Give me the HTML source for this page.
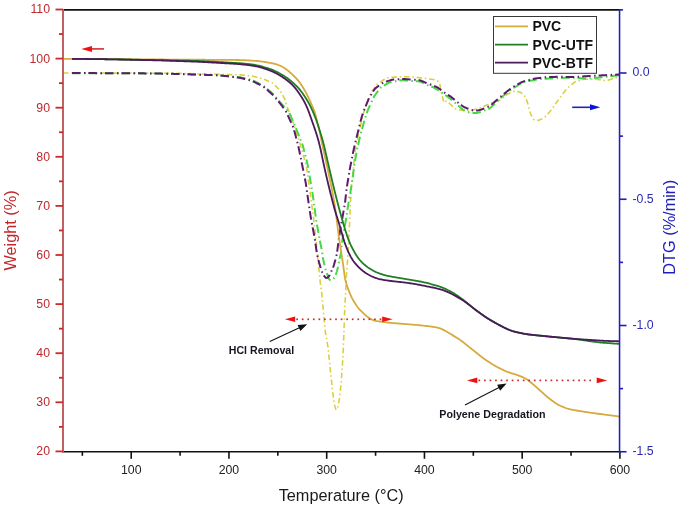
<!DOCTYPE html>
<html><head><meta charset="utf-8"><style>
html,body{margin:0;padding:0;background:#fff;}
svg{display:block;filter:blur(0.3px);font-family:"Liberation Sans",sans-serif;}
</style></head><body>
<svg width="685" height="513" viewBox="0 0 685 513">
<line x1="63.0" y1="9.9" x2="619.5" y2="9.9" stroke="#111" stroke-width="1.8"/>
<line x1="63.0" y1="451.8" x2="619.5" y2="451.8" stroke="#111" stroke-width="1.6"/>
<line x1="82.35" y1="451.8" x2="82.35" y2="455.8" stroke="#111" stroke-width="1.6"/>
<line x1="131.22" y1="451.8" x2="131.22" y2="458.8" stroke="#111" stroke-width="1.6"/>
<text x="131.22" y="474.3" font-size="12.3" fill="#222" text-anchor="middle">100</text>
<line x1="180.09" y1="451.8" x2="180.09" y2="455.8" stroke="#111" stroke-width="1.6"/>
<line x1="228.96" y1="451.8" x2="228.96" y2="458.8" stroke="#111" stroke-width="1.6"/>
<text x="228.96" y="474.3" font-size="12.3" fill="#222" text-anchor="middle">200</text>
<line x1="277.83" y1="451.8" x2="277.83" y2="455.8" stroke="#111" stroke-width="1.6"/>
<line x1="326.70" y1="451.8" x2="326.70" y2="458.8" stroke="#111" stroke-width="1.6"/>
<text x="326.70" y="474.3" font-size="12.3" fill="#222" text-anchor="middle">300</text>
<line x1="375.57" y1="451.8" x2="375.57" y2="455.8" stroke="#111" stroke-width="1.6"/>
<line x1="424.44" y1="451.8" x2="424.44" y2="458.8" stroke="#111" stroke-width="1.6"/>
<text x="424.44" y="474.3" font-size="12.3" fill="#222" text-anchor="middle">400</text>
<line x1="473.31" y1="451.8" x2="473.31" y2="455.8" stroke="#111" stroke-width="1.6"/>
<line x1="522.18" y1="451.8" x2="522.18" y2="458.8" stroke="#111" stroke-width="1.6"/>
<text x="522.18" y="474.3" font-size="12.3" fill="#222" text-anchor="middle">500</text>
<line x1="571.05" y1="451.8" x2="571.05" y2="455.8" stroke="#111" stroke-width="1.6"/>
<line x1="619.92" y1="451.8" x2="619.92" y2="458.8" stroke="#111" stroke-width="1.6"/>
<text x="619.92" y="474.3" font-size="12.3" fill="#222" text-anchor="middle">600</text>
<path d="M63.00,73.00 L64.00,73.00 L65.00,73.00 L66.00,73.00 L67.00,73.00 L68.00,73.00 L69.00,73.00 L70.00,73.00 L71.00,73.00 L72.00,73.00 L73.00,73.00 L74.00,73.01 L75.00,73.01 L76.00,73.01 L77.00,73.01 L78.00,73.02 L79.00,73.02 L80.00,73.02 L81.00,73.02 L82.00,73.03 L83.00,73.03 L84.00,73.03 L85.00,73.03 L86.00,73.04 L87.00,73.04 L88.00,73.04 L89.00,73.04 L90.00,73.05 L91.00,73.05 L92.00,73.05 L93.00,73.06 L94.00,73.06 L95.00,73.06 L96.00,73.06 L97.00,73.07 L98.00,73.07 L99.00,73.07 L100.00,73.07 L101.00,73.08 L102.00,73.08 L103.00,73.08 L104.01,73.08 L105.01,73.09 L106.01,73.09 L107.01,73.09 L108.01,73.09 L109.01,73.10 L110.01,73.10 L111.01,73.10 L112.01,73.11 L113.01,73.11 L114.01,73.11 L115.01,73.11 L116.01,73.12 L117.01,73.12 L118.01,73.12 L119.01,73.12 L120.01,73.13 L121.01,73.13 L122.01,73.13 L123.01,73.13 L124.01,73.14 L125.01,73.14 L126.01,73.14 L127.01,73.14 L128.01,73.15 L129.01,73.15 L130.01,73.15 L131.01,73.15 L132.01,73.16 L133.01,73.16 L134.01,73.16 L135.01,73.16 L136.01,73.17 L137.01,73.17 L138.01,73.17 L139.01,73.17 L140.01,73.18 L141.01,73.18 L142.01,73.18 L143.01,73.18 L144.01,73.19 L145.01,73.19 L146.01,73.19 L147.01,73.19 L148.01,73.20 L149.01,73.20 L150.01,73.20 L151.01,73.21 L152.01,73.21 L153.01,73.22 L154.01,73.23 L155.01,73.23 L156.01,73.24 L157.01,73.25 L158.01,73.25 L159.01,73.26 L160.01,73.27 L161.01,73.27 L162.01,73.28 L163.01,73.29 L164.01,73.29 L165.01,73.30 L166.01,73.31 L167.01,73.31 L168.01,73.32 L169.01,73.33 L170.01,73.33 L171.01,73.34 L172.01,73.35 L173.01,73.35 L174.01,73.36 L175.01,73.37 L176.01,73.37 L177.01,73.38 L178.01,73.39 L179.01,73.39 L180.01,73.41 L181.01,73.43 L182.01,73.45 L183.01,73.48 L184.01,73.50 L185.01,73.53 L186.01,73.55 L187.01,73.58 L188.01,73.60 L189.01,73.63 L190.01,73.65 L191.01,73.68 L192.01,73.70 L193.01,73.73 L194.01,73.75 L195.01,73.78 L196.01,73.80 L197.01,73.83 L198.01,73.85 L199.01,73.88 L200.01,73.90 L201.01,73.93 L202.01,73.95 L203.01,73.98 L204.01,74.00 L205.01,74.03 L206.01,74.05 L207.01,74.08 L208.01,74.10 L209.01,74.13 L210.01,74.15 L211.01,74.18 L212.01,74.20 L213.01,74.23 L214.01,74.25 L215.01,74.28 L216.01,74.30 L217.01,74.33 L218.01,74.35 L219.01,74.37 L220.01,74.40 L221.01,74.42 L222.01,74.44 L223.01,74.46 L224.01,74.48 L225.01,74.50 L226.01,74.52 L227.01,74.54 L228.01,74.56 L229.01,74.58 L230.01,74.60 L231.01,74.62 L232.01,74.64 L233.01,74.66 L234.01,74.68 L235.01,74.70 L236.01,74.72 L237.01,74.74 L238.01,74.76 L239.00,74.78 L240.00,74.83 L241.00,74.91 L241.99,75.00 L242.99,75.11 L243.98,75.21 L244.98,75.31 L245.97,75.41 L246.97,75.51 L247.96,75.62 L248.96,75.72 L249.95,75.82 L250.95,75.93 L251.93,76.09 L252.91,76.31 L253.88,76.56 L254.84,76.81 L255.81,77.05 L256.78,77.30 L257.75,77.55 L258.72,77.80 L259.69,78.05 L260.66,78.30 L261.63,78.55 L262.59,78.80 L263.54,79.10 L264.47,79.47 L265.39,79.86 L266.31,80.25 L267.23,80.65 L268.15,81.04 L269.07,81.44 L269.99,81.83 L270.90,82.23 L271.81,82.64 L272.67,83.12 L273.43,83.75 L274.15,84.45 L274.85,85.15 L275.56,85.86 L276.27,86.57 L276.98,87.28 L277.68,87.98 L278.39,88.69 L279.08,89.41 L279.72,90.17 L280.27,91.00 L280.77,91.86 L281.27,92.73 L281.76,93.60 L282.26,94.47 L282.76,95.33 L283.25,96.20 L283.75,97.07 L284.21,97.95 L284.59,98.87 L284.91,99.82 L285.21,100.77 L285.52,101.73 L285.82,102.68 L286.12,103.63 L286.42,104.59 L286.72,105.54 L287.02,106.49 L287.33,107.44 L287.68,108.38 L288.06,109.30 L288.45,110.22 L288.85,111.14 L289.24,112.06 L289.64,112.98 L290.03,113.90 L290.41,114.83 L290.76,115.76 L291.09,116.71 L291.42,117.65 L291.74,118.60 L292.07,119.54 L292.40,120.49 L292.73,121.43 L293.05,122.38 L293.38,123.32 L293.71,124.27 L294.03,125.21 L294.36,126.16 L294.69,127.10 L295.01,128.05 L295.32,129.00 L295.62,129.96 L295.92,130.91 L296.22,131.86 L296.52,132.82 L296.82,133.77 L297.12,134.72 L297.42,135.68 L297.73,136.63 L298.03,137.58 L298.33,138.54 L298.63,139.49 L298.93,140.45 L299.23,141.40 L299.53,142.35 L299.83,143.31 L300.13,144.26 L300.43,145.22 L300.71,146.18 L300.98,147.14 L301.25,148.10 L301.53,149.06 L301.80,150.03 L302.07,150.99 L302.35,151.95 L302.62,152.91 L302.90,153.87 L303.17,154.84 L303.44,155.80 L303.70,156.76 L303.95,157.73 L304.20,158.70 L304.45,159.67 L304.70,160.64 L304.95,161.61 L305.20,162.57 L305.45,163.54 L305.70,164.51 L305.95,165.48 L306.20,166.45 L306.44,167.42 L306.64,168.40 L306.80,169.38 L306.94,170.37 L307.09,171.36 L307.23,172.35 L307.37,173.34 L307.52,174.33 L307.66,175.32 L307.81,176.31 L307.95,177.30 L308.09,178.29 L308.24,179.28 L308.38,180.27 L308.52,181.26 L308.67,182.25 L308.81,183.24 L308.95,184.23 L309.10,185.22 L309.24,186.21 L309.38,187.20 L309.53,188.19 L309.67,189.18 L309.82,190.17 L309.96,191.16 L310.10,192.15 L310.25,193.14 L310.39,194.13 L310.52,195.12 L310.65,196.11 L310.78,197.10 L310.90,198.09 L311.03,199.09 L311.16,200.08 L311.29,201.07 L311.42,202.06 L311.55,203.05 L311.67,204.05 L311.80,205.04 L311.93,206.03 L312.06,207.02 L312.19,208.01 L312.32,209.00 L312.45,210.00 L312.57,210.99 L312.70,211.98 L312.83,212.97 L312.96,213.96 L313.09,214.96 L313.22,215.95 L313.34,216.94 L313.47,217.93 L313.60,218.92 L313.73,219.91 L313.86,220.91 L313.98,221.90 L314.09,222.89 L314.20,223.89 L314.31,224.88 L314.42,225.88 L314.52,226.87 L314.63,227.86 L314.74,228.86 L314.84,229.85 L314.95,230.85 L315.06,231.84 L315.16,232.84 L315.27,233.83 L315.38,234.83 L315.49,235.82 L315.59,236.81 L315.70,237.81 L315.81,238.80 L315.91,239.80 L316.02,240.79 L316.13,241.79 L316.23,242.78 L316.34,243.78 L316.44,244.77 L316.54,245.76 L316.64,246.76 L316.75,247.75 L316.85,248.75 L316.95,249.74 L317.05,250.74 L317.15,251.73 L317.26,252.73 L317.36,253.72 L317.46,254.72 L317.56,255.71 L317.67,256.71 L317.77,257.70 L317.87,258.70 L317.97,259.69 L318.07,260.69 L318.18,261.68 L318.28,262.68 L318.38,263.67 L318.48,264.67 L318.58,265.66 L318.68,266.66 L318.78,267.65 L318.88,268.65 L318.98,269.64 L319.08,270.64 L319.18,271.63 L319.27,272.63 L319.37,273.63 L319.47,274.62 L319.57,275.62 L319.67,276.61 L319.76,277.61 L319.86,278.60 L319.96,279.60 L320.08,280.59 L320.20,281.58 L320.33,282.57 L320.46,283.57 L320.58,284.56 L320.71,285.55 L320.84,286.54 L320.96,287.53 L321.09,288.53 L321.22,289.52 L321.35,290.51 L321.47,291.50 L321.59,292.50 L321.69,293.49 L321.79,294.49 L321.89,295.48 L321.98,296.48 L322.08,297.47 L322.18,298.47 L322.27,299.46 L322.37,300.46 L322.46,301.45 L322.56,302.45 L322.66,303.45 L322.75,304.44 L322.85,305.44 L322.95,306.43 L323.04,307.43 L323.14,308.42 L323.23,309.42 L323.33,310.41 L323.42,311.41 L323.51,312.41 L323.60,313.40 L323.69,314.40 L323.78,315.39 L323.87,316.39 L323.96,317.39 L324.05,318.38 L324.14,319.38 L324.23,320.37 L324.32,321.37 L324.42,322.37 L324.51,323.36 L324.60,324.36 L324.69,325.35 L324.78,326.35 L324.87,327.35 L324.96,328.34 L325.05,329.34 L325.15,330.33 L325.27,331.32 L325.43,332.31 L325.60,333.30 L325.78,334.28 L325.95,335.27 L326.12,336.25 L326.30,337.24 L326.47,338.22 L326.64,339.21 L326.82,340.19 L326.99,341.18 L327.16,342.16 L327.33,343.15 L327.51,344.13 L327.68,345.12 L327.85,346.10 L328.02,347.09 L328.15,348.08 L328.25,349.07 L328.35,350.07 L328.45,351.06 L328.55,352.06 L328.65,353.05 L328.75,354.05 L328.84,355.05 L328.94,356.04 L329.04,357.04 L329.14,358.03 L329.24,359.03 L329.33,360.02 L329.43,361.02 L329.53,362.01 L329.63,363.01 L329.73,364.00 L329.82,365.00 L329.92,365.99 L330.02,366.99 L330.12,367.98 L330.22,368.98 L330.31,369.97 L330.41,370.97 L330.51,371.97 L330.61,372.96 L330.71,373.96 L330.82,374.95 L330.93,375.94 L331.05,376.94 L331.16,377.93 L331.27,378.92 L331.39,379.92 L331.50,380.91 L331.61,381.91 L331.73,382.90 L331.84,383.89 L331.95,384.89 L332.07,385.88 L332.18,386.87 L332.29,387.87 L332.41,388.86 L332.52,389.85 L332.63,390.85 L332.75,391.84 L332.86,392.84 L332.97,393.83 L333.09,394.82 L333.20,395.82 L333.33,396.81 L333.48,397.80 L333.63,398.79 L333.79,399.77 L333.95,400.76 L334.10,401.75 L334.26,402.74 L334.42,403.72 L334.58,404.71 L334.79,405.69 L335.06,406.65 L335.34,407.61 L335.64,408.56 L335.94,409.43 L336.28,409.82 L336.70,409.39 L337.15,408.55 L337.56,407.64 L337.85,406.70 L338.08,405.73 L338.29,404.75 L338.50,403.77 L338.71,402.79 L338.92,401.81 L339.09,400.83 L339.23,399.84 L339.35,398.85 L339.46,397.85 L339.57,396.86 L339.69,395.87 L339.80,394.87 L339.91,393.88 L340.03,392.89 L340.14,391.89 L340.25,390.90 L340.37,389.91 L340.48,388.91 L340.59,387.92 L340.71,386.92 L340.82,385.93 L340.93,384.94 L341.05,383.94 L341.15,382.95 L341.24,381.95 L341.31,380.96 L341.38,379.96 L341.45,378.96 L341.52,377.96 L341.59,376.96 L341.65,375.97 L341.72,374.97 L341.79,373.97 L341.86,372.97 L341.93,371.98 L342.00,370.98 L342.06,369.98 L342.13,368.98 L342.20,367.98 L342.27,366.99 L342.34,365.99 L342.41,364.99 L342.47,363.99 L342.54,363.00 L342.61,362.00 L342.68,361.00 L342.75,360.00 L342.81,359.00 L342.88,358.01 L342.95,357.01 L343.01,356.01 L343.05,355.01 L343.09,354.01 L343.13,353.01 L343.17,352.01 L343.20,351.01 L343.24,350.01 L343.28,349.01 L343.32,348.01 L343.36,347.02 L343.40,346.02 L343.44,345.02 L343.47,344.02 L343.51,343.02 L343.55,342.02 L343.59,341.02 L343.63,340.02 L343.67,339.02 L343.71,338.02 L343.74,337.02 L343.78,336.02 L343.82,335.02 L343.86,334.02 L343.90,333.02 L343.93,332.02 L343.97,331.03 L344.00,330.03 L344.04,329.03 L344.07,328.03 L344.11,327.03 L344.14,326.03 L344.18,325.03 L344.21,324.03 L344.25,323.03 L344.28,322.03 L344.32,321.03 L344.35,320.03 L344.39,319.03 L344.42,318.03 L344.46,317.03 L344.49,316.03 L344.53,315.03 L344.56,314.03 L344.60,313.03 L344.63,312.03 L344.67,311.03 L344.71,310.04 L344.75,309.04 L344.81,308.04 L344.86,307.04 L344.91,306.04 L344.96,305.04 L345.01,304.04 L345.06,303.04 L345.11,302.04 L345.16,301.05 L345.21,300.05 L345.27,299.05 L345.32,298.05 L345.37,297.05 L345.42,296.05 L345.47,295.05 L345.52,294.05 L345.57,293.06 L345.62,292.06 L345.67,291.06 L345.73,290.06 L345.78,289.06 L345.83,288.06 L345.88,287.06 L345.93,286.06 L345.98,285.06 L346.03,284.07 L346.09,283.07 L346.14,282.07 L346.19,281.07 L346.24,280.07 L346.29,279.07 L346.34,278.07 L346.39,277.07 L346.45,276.08 L346.50,275.08 L346.57,274.08 L346.64,273.08 L346.72,272.08 L346.80,271.09 L346.87,270.09 L346.95,269.09 L347.02,268.10 L347.10,267.10 L347.17,266.10 L347.25,265.10 L347.31,264.11 L347.37,263.11 L347.43,262.11 L347.49,261.11 L347.55,260.11 L347.60,259.11 L347.66,258.12 L347.72,257.12 L347.77,256.12 L347.83,255.12 L347.89,254.12 L347.94,253.12 L348.00,252.12 L348.06,251.13 L348.12,250.13 L348.17,249.13 L348.23,248.13 L348.29,247.13 L348.34,246.13 L348.40,245.13 L348.46,244.14 L348.51,243.14 L348.57,242.14 L348.62,241.14 L348.67,240.14 L348.72,239.14 L348.77,238.14 L348.83,237.15 L348.88,236.15 L348.93,235.15 L348.98,234.15 L349.03,233.15 L349.09,232.15 L349.14,231.15 L349.19,230.15 L349.24,229.15 L349.29,228.16 L349.35,227.16 L349.40,226.16 L349.45,225.16 L349.50,224.16 L349.55,223.16 L349.60,222.16 L349.65,221.16 L349.70,220.17 L349.74,219.17 L349.79,218.17 L349.83,217.17 L349.88,216.17 L349.93,215.17 L349.97,214.17 L350.02,213.17 L350.06,212.17 L350.11,211.17 L350.15,210.17 L350.20,209.18 L350.25,208.18 L350.29,207.18 L350.34,206.18 L350.38,205.18 L350.43,204.18 L350.47,203.18 L350.53,202.18 L350.58,201.18 L350.64,200.18 L350.69,199.19 L350.75,198.19 L350.81,197.19 L350.86,196.19 L350.92,195.19 L350.98,194.19 L351.03,193.20 L351.09,192.20 L351.15,191.20 L351.20,190.20 L351.26,189.20 L351.32,188.20 L351.37,187.20 L351.43,186.21 L351.50,185.21 L351.61,184.21 L351.73,183.22 L351.86,182.23 L351.99,181.24 L352.11,180.25 L352.24,179.25 L352.37,178.26 L352.50,177.27 L352.63,176.28 L352.76,175.29 L352.88,174.30 L352.99,173.30 L353.09,172.31 L353.17,171.31 L353.25,170.31 L353.33,169.32 L353.41,168.32 L353.49,167.32 L353.57,166.32 L353.65,165.33 L353.73,164.33 L353.81,163.33 L353.89,162.34 L353.97,161.34 L354.06,160.34 L354.14,159.35 L354.22,158.35 L354.30,157.35 L354.38,156.36 L354.46,155.36 L354.55,154.36 L354.67,153.37 L354.84,152.39 L355.04,151.41 L355.23,150.43 L355.43,149.45 L355.63,148.47 L355.82,147.48 L356.02,146.50 L356.22,145.52 L356.41,144.54 L356.61,143.56 L356.80,142.58 L357.00,141.60 L357.20,140.62 L357.39,139.64 L357.59,138.66 L357.78,137.68 L357.98,136.70 L358.19,135.72 L358.41,134.74 L358.64,133.77 L358.86,132.80 L359.09,131.82 L359.31,130.85 L359.53,129.87 L359.76,128.90 L359.98,127.92 L360.21,126.95 L360.43,125.97 L360.66,125.00 L360.88,124.02 L361.11,123.05 L361.33,122.07 L361.56,121.10 L361.78,120.13 L362.00,119.15 L362.23,118.18 L362.47,117.20 L362.72,116.24 L363.00,115.28 L363.27,114.32 L363.55,113.35 L363.83,112.39 L364.10,111.43 L364.38,110.47 L364.66,109.51 L364.94,108.55 L365.21,107.59 L365.50,106.63 L365.82,105.68 L366.19,104.76 L366.57,103.83 L366.96,102.91 L367.35,101.99 L367.74,101.07 L368.12,100.15 L368.51,99.22 L368.90,98.30 L369.29,97.38 L369.68,96.46 L370.07,95.54 L370.46,94.62 L370.84,93.70 L371.24,92.78 L371.68,91.89 L372.21,91.04 L372.79,90.22 L373.36,89.41 L373.94,88.59 L374.52,87.77 L375.10,86.96 L375.67,86.14 L376.25,85.33 L376.84,84.52 L377.49,83.78 L378.27,83.18 L379.11,82.64 L379.96,82.12 L380.81,81.59 L381.66,81.07 L382.52,80.54 L383.37,80.02 L384.22,79.49 L385.07,78.97 L385.92,78.46 L386.81,78.04 L387.77,77.82 L388.76,77.70 L389.75,77.60 L390.75,77.50 L391.74,77.39 L392.74,77.29 L393.73,77.19 L394.73,77.09 L395.72,76.99 L396.71,76.88 L397.71,76.79 L398.71,76.73 L399.71,76.71 L400.71,76.72 L401.71,76.73 L402.71,76.74 L403.71,76.75 L404.71,76.75 L405.71,76.76 L406.71,76.77 L407.71,76.78 L408.71,76.79 L409.71,76.82 L410.70,76.88 L411.70,76.97 L412.69,77.07 L413.69,77.17 L414.68,77.27 L415.68,77.37 L416.67,77.47 L417.67,77.57 L418.66,77.67 L419.66,77.77 L420.65,77.87 L421.65,77.97 L422.65,78.06 L423.64,78.16 L424.63,78.27 L425.63,78.40 L426.61,78.56 L427.60,78.71 L428.59,78.87 L429.58,79.02 L430.57,79.18 L431.55,79.33 L432.54,79.49 L433.53,79.65 L434.52,79.80 L435.50,79.98 L436.43,80.27 L437.29,80.75 L438.10,81.31 L438.87,81.93 L439.42,82.67 L439.71,83.58 L439.89,84.56 L440.06,85.55 L440.23,86.53 L440.42,87.51 L440.62,88.49 L440.82,89.47 L441.03,90.45 L441.25,91.43 L441.46,92.40 L441.67,93.38 L441.88,94.36 L442.10,95.34 L442.33,96.31 L442.58,97.28 L442.82,98.25 L443.07,99.22 L443.31,100.19 L443.57,101.15 L443.90,102.05 L444.46,102.70 L445.08,102.81 L445.51,102.22 L445.86,101.46 L446.37,101.20 L447.08,101.58 L447.85,102.18 L448.63,102.80 L449.42,103.42 L450.18,104.06 L450.92,104.73 L451.63,105.43 L452.34,106.14 L453.05,106.85 L453.76,107.55 L454.50,108.20 L455.34,108.67 L456.28,108.96 L457.25,109.20 L458.22,109.44 L459.19,109.68 L460.17,109.90 L461.15,110.11 L462.13,110.31 L463.11,110.51 L464.09,110.68 L465.08,110.74 L466.08,110.72 L467.07,110.67 L468.07,110.60 L469.06,110.48 L470.05,110.32 L471.03,110.14 L472.01,109.96 L473.00,109.78 L473.98,109.60 L474.97,109.42 L475.95,109.24 L476.93,109.05 L477.89,108.80 L478.83,108.45 L479.75,108.06 L480.67,107.67 L481.58,107.27 L482.50,106.87 L483.42,106.48 L484.34,106.08 L485.26,105.69 L486.18,105.29 L487.09,104.90 L488.01,104.50 L488.93,104.10 L489.85,103.72 L490.79,103.36 L491.73,103.02 L492.67,102.69 L493.61,102.36 L494.56,102.02 L495.50,101.69 L496.44,101.36 L497.39,101.02 L498.33,100.69 L499.26,100.33 L500.14,99.89 L500.94,99.31 L501.72,98.68 L502.49,98.04 L503.26,97.40 L504.03,96.76 L504.80,96.13 L505.57,95.49 L506.35,94.86 L507.17,94.31 L508.05,93.86 L508.97,93.46 L509.89,93.07 L510.81,92.67 L511.73,92.28 L512.65,91.89 L513.57,91.50 L514.49,91.15 L515.42,91.01 L516.38,91.16 L517.33,91.43 L518.29,91.71 L519.25,91.99 L520.20,92.30 L521.07,92.73 L521.83,93.35 L522.54,94.04 L523.25,94.75 L523.96,95.46 L524.66,96.17 L525.32,96.90 L525.82,97.74 L526.18,98.66 L526.49,99.61 L526.80,100.56 L527.12,101.51 L527.43,102.46 L527.74,103.41 L528.03,104.37 L528.29,105.33 L528.54,106.30 L528.79,107.27 L529.04,108.24 L529.29,109.20 L529.54,110.17 L529.79,111.14 L530.04,112.11 L530.32,113.07 L530.69,113.99 L531.14,114.88 L531.62,115.76 L532.09,116.64 L532.56,117.52 L533.04,118.40 L533.55,119.23 L534.21,119.83 L535.09,120.11 L536.07,120.24 L537.06,120.34 L538.05,120.37 L538.99,120.19 L539.90,119.81 L540.79,119.37 L541.69,118.93 L542.59,118.49 L543.48,118.04 L544.32,117.52 L545.05,116.86 L545.73,116.13 L546.40,115.39 L547.08,114.65 L547.75,113.91 L548.42,113.17 L549.09,112.42 L549.75,111.68 L550.39,110.91 L550.99,110.11 L551.57,109.29 L552.16,108.48 L552.74,107.67 L553.32,106.86 L553.91,106.05 L554.49,105.24 L555.08,104.42 L555.66,103.61 L556.24,102.80 L556.83,101.99 L557.41,101.17 L557.99,100.36 L558.57,99.55 L559.15,98.73 L559.74,97.92 L560.32,97.11 L560.90,96.29 L561.49,95.48 L562.09,94.69 L562.71,93.91 L563.35,93.13 L563.98,92.36 L564.61,91.58 L565.24,90.81 L565.88,90.03 L566.51,89.26 L567.15,88.49 L567.83,87.76 L568.57,87.09 L569.33,86.45 L570.10,85.81 L570.87,85.17 L571.64,84.53 L572.41,83.90 L573.18,83.26 L573.96,82.63 L574.78,82.09 L575.68,81.69 L576.63,81.36 L577.57,81.04 L578.52,80.73 L579.47,80.41 L580.42,80.09 L581.37,79.78 L582.32,79.50 L583.30,79.34 L584.29,79.30 L585.29,79.30 L586.29,79.30 L587.29,79.30 L588.29,79.30 L589.29,79.30 L590.29,79.30 L591.29,79.30 L592.29,79.30 L593.29,79.30 L594.29,79.30 L595.29,79.30 L596.29,79.32 L597.29,79.40 L598.28,79.54 L599.26,79.69 L600.25,79.85 L601.24,80.01 L602.23,80.17 L603.21,80.32 L604.20,80.48 L605.19,80.62 L606.17,80.66 L607.13,80.48 L608.08,80.19 L609.03,79.88 L609.98,79.57 L610.93,79.26 L611.88,78.95 L612.84,78.64 L613.79,78.34 L614.74,78.03 L615.69,77.72 L616.64,77.41 L617.59,77.10 L618.55,76.80 L619.50,76.50" fill="none" stroke="#dccf3c" stroke-width="1.60" stroke-linejoin="round" stroke-dasharray="5.5,2.8,1.5,2.8" />
<path d="M72.00,73.20 L73.00,73.20 L74.00,73.21 L75.00,73.21 L76.00,73.21 L77.00,73.21 L78.00,73.22 L79.00,73.22 L80.00,73.22 L81.00,73.22 L82.00,73.23 L83.00,73.23 L84.00,73.23 L85.00,73.23 L86.00,73.24 L87.00,73.24 L88.00,73.24 L89.00,73.24 L90.00,73.25 L91.00,73.25 L92.00,73.25 L93.00,73.26 L94.00,73.26 L95.00,73.26 L96.00,73.26 L97.00,73.27 L98.00,73.27 L99.00,73.27 L100.00,73.27 L101.00,73.28 L102.00,73.28 L103.00,73.28 L104.00,73.28 L105.01,73.29 L106.01,73.29 L107.01,73.29 L108.01,73.29 L109.01,73.30 L110.01,73.30 L111.01,73.30 L112.01,73.31 L113.01,73.31 L114.01,73.31 L115.01,73.31 L116.01,73.32 L117.01,73.32 L118.01,73.32 L119.01,73.32 L120.01,73.33 L121.01,73.33 L122.01,73.33 L123.01,73.33 L124.01,73.34 L125.01,73.34 L126.01,73.34 L127.01,73.34 L128.01,73.35 L129.01,73.35 L130.01,73.35 L131.01,73.35 L132.01,73.36 L133.01,73.36 L134.01,73.36 L135.01,73.36 L136.01,73.37 L137.01,73.37 L138.01,73.37 L139.01,73.37 L140.01,73.38 L141.01,73.38 L142.01,73.38 L143.01,73.38 L144.01,73.39 L145.01,73.39 L146.01,73.39 L147.01,73.39 L148.01,73.40 L149.01,73.40 L150.01,73.41 L151.01,73.42 L152.01,73.44 L153.01,73.46 L154.01,73.48 L155.01,73.50 L156.01,73.52 L157.01,73.54 L158.01,73.56 L159.01,73.58 L160.01,73.60 L161.01,73.62 L162.01,73.64 L163.01,73.66 L164.01,73.68 L165.01,73.70 L166.01,73.72 L167.01,73.74 L168.01,73.76 L169.01,73.78 L170.01,73.80 L171.01,73.82 L172.01,73.84 L173.01,73.86 L174.01,73.88 L175.01,73.90 L176.01,73.92 L177.01,73.94 L178.01,73.96 L179.01,73.98 L180.01,74.01 L181.01,74.04 L182.01,74.07 L183.01,74.11 L184.01,74.14 L185.01,74.18 L186.01,74.21 L187.01,74.25 L188.01,74.28 L189.01,74.32 L190.01,74.35 L191.01,74.39 L192.01,74.42 L193.00,74.46 L194.00,74.49 L195.00,74.53 L196.00,74.56 L197.00,74.60 L198.00,74.63 L199.00,74.67 L200.00,74.70 L201.00,74.74 L202.00,74.77 L203.00,74.80 L204.00,74.84 L205.00,74.87 L206.00,74.91 L207.00,74.94 L208.00,74.98 L209.00,75.01 L210.00,75.05 L211.00,75.08 L212.00,75.12 L213.00,75.15 L213.99,75.19 L214.99,75.22 L215.99,75.26 L216.99,75.29 L217.99,75.33 L218.99,75.37 L219.99,75.43 L220.99,75.50 L221.98,75.58 L222.98,75.67 L223.98,75.76 L224.97,75.85 L225.97,75.94 L226.97,76.03 L227.96,76.12 L228.96,76.21 L229.95,76.30 L230.95,76.39 L231.95,76.48 L232.94,76.56 L233.94,76.65 L234.93,76.74 L235.93,76.83 L236.93,76.92 L237.92,77.02 L238.92,77.12 L239.91,77.25 L240.89,77.43 L241.87,77.63 L242.84,77.86 L243.81,78.08 L244.79,78.31 L245.76,78.53 L246.74,78.76 L247.71,78.98 L248.69,79.21 L249.66,79.43 L250.63,79.68 L251.58,79.97 L252.50,80.34 L253.41,80.75 L254.31,81.19 L255.20,81.64 L256.10,82.08 L256.99,82.52 L257.89,82.97 L258.79,83.41 L259.68,83.86 L260.58,84.30 L261.47,84.75 L262.36,85.21 L263.21,85.72 L264.03,86.29 L264.81,86.91 L265.57,87.55 L266.34,88.19 L267.10,88.84 L267.86,89.49 L268.62,90.14 L269.39,90.78 L270.15,91.43 L270.91,92.08 L271.66,92.74 L272.40,93.41 L273.10,94.12 L273.77,94.86 L274.42,95.62 L275.07,96.38 L275.72,97.14 L276.37,97.90 L277.02,98.66 L277.67,99.42 L278.32,100.18 L278.97,100.94 L279.63,101.69 L280.30,102.43 L280.97,103.17 L281.65,103.91 L282.33,104.64 L283.01,105.37 L283.69,106.11 L284.37,106.84 L285.05,107.57 L285.74,108.30 L286.42,109.04 L287.09,109.77 L287.75,110.52 L288.37,111.30 L288.89,112.13 L289.34,113.01 L289.76,113.92 L290.16,114.84 L290.56,115.75 L290.96,116.67 L291.36,117.59 L291.76,118.50 L292.16,119.42 L292.57,120.33 L292.97,121.25 L293.37,122.17 L293.77,123.08 L294.17,124.00 L294.57,124.92 L294.97,125.83 L295.37,126.75 L295.75,127.67 L296.13,128.60 L296.51,129.53 L296.88,130.46 L297.25,131.38 L297.61,132.31 L297.98,133.24 L298.35,134.17 L298.72,135.10 L299.09,136.03 L299.46,136.96 L299.83,137.89 L300.20,138.82 L300.57,139.75 L300.94,140.68 L301.31,141.61 L301.68,142.54 L302.05,143.47 L302.40,144.40 L302.71,145.35 L302.99,146.31 L303.24,147.28 L303.49,148.24 L303.73,149.21 L303.98,150.18 L304.22,151.15 L304.47,152.12 L304.71,153.09 L304.95,154.06 L305.20,155.03 L305.44,156.00 L305.68,156.97 L305.93,157.94 L306.17,158.91 L306.41,159.88 L306.66,160.85 L306.90,161.82 L307.14,162.80 L307.38,163.77 L307.61,164.74 L307.81,165.72 L307.99,166.70 L308.16,167.69 L308.33,168.67 L308.50,169.66 L308.67,170.65 L308.84,171.63 L309.00,172.62 L309.17,173.60 L309.34,174.59 L309.51,175.57 L309.68,176.56 L309.85,177.55 L310.02,178.53 L310.19,179.52 L310.35,180.50 L310.52,181.49 L310.69,182.48 L310.86,183.46 L311.03,184.45 L311.20,185.43 L311.37,186.42 L311.54,187.40 L311.71,188.39 L311.87,189.38 L312.04,190.36 L312.21,191.35 L312.38,192.33 L312.54,193.32 L312.70,194.31 L312.84,195.30 L312.98,196.29 L313.11,197.28 L313.24,198.27 L313.38,199.26 L313.51,200.25 L313.64,201.24 L313.78,202.24 L313.91,203.23 L314.04,204.22 L314.17,205.21 L314.31,206.20 L314.44,207.19 L314.57,208.18 L314.70,209.18 L314.84,210.17 L314.97,211.16 L315.10,212.15 L315.23,213.14 L315.37,214.13 L315.50,215.12 L315.63,216.11 L315.77,217.11 L315.90,218.10 L316.03,219.09 L316.17,220.08 L316.32,221.07 L316.48,222.05 L316.66,223.04 L316.84,224.02 L317.02,225.01 L317.20,225.99 L317.38,226.97 L317.56,227.96 L317.74,228.94 L317.92,229.92 L318.10,230.91 L318.28,231.89 L318.46,232.88 L318.65,233.86 L318.83,234.84 L319.01,235.83 L319.19,236.81 L319.37,237.79 L319.55,238.78 L319.73,239.76 L319.91,240.74 L320.09,241.73 L320.28,242.71 L320.47,243.69 L320.67,244.67 L320.87,245.65 L321.07,246.63 L321.27,247.61 L321.48,248.59 L321.68,249.57 L321.87,250.55 L322.05,251.53 L322.21,252.52 L322.34,253.51 L322.47,254.50 L322.60,255.50 L322.74,256.49 L322.88,257.48 L323.05,258.46 L323.23,259.44 L323.43,260.43 L323.62,261.41 L323.83,262.39 L324.04,263.36 L324.27,264.33 L324.52,265.30 L324.77,266.27 L325.02,267.24 L325.27,268.21 L325.54,269.17 L325.83,270.13 L326.15,271.07 L326.47,272.02 L326.80,272.97 L327.12,273.91 L327.44,274.86 L327.74,275.81 L328.05,276.76 L328.38,277.70 L328.79,278.58 L329.34,279.37 L329.99,280.04 L330.70,280.47 L331.41,280.49 L332.11,280.08 L332.79,279.43 L333.42,278.67 L333.99,277.86 L334.51,277.01 L335.01,276.14 L335.47,275.26 L335.87,274.35 L336.23,273.42 L336.56,272.47 L336.87,271.53 L337.16,270.57 L337.40,269.60 L337.61,268.63 L337.81,267.65 L337.99,266.66 L338.18,265.68 L338.37,264.70 L338.56,263.72 L338.76,262.74 L338.96,261.76 L339.16,260.78 L339.36,259.80 L339.57,258.82 L339.80,257.85 L340.04,256.88 L340.28,255.91 L340.52,254.93 L340.72,253.96 L340.87,252.97 L340.98,251.98 L341.08,250.98 L341.17,249.99 L341.27,248.99 L341.36,248.00 L341.46,247.00 L341.57,246.01 L341.69,245.01 L341.82,244.02 L341.96,243.03 L342.11,242.04 L342.26,241.05 L342.40,240.06 L342.55,239.08 L342.69,238.09 L342.84,237.10 L343.00,236.11 L343.17,235.12 L343.34,234.14 L343.52,233.15 L343.70,232.17 L343.88,231.19 L344.06,230.20 L344.24,229.22 L344.42,228.24 L344.60,227.25 L344.78,226.27 L344.96,225.28 L345.13,224.30 L345.31,223.31 L345.48,222.33 L345.64,221.34 L345.80,220.35 L345.95,219.37 L346.10,218.38 L346.25,217.39 L346.40,216.40 L346.56,215.41 L346.71,214.42 L346.86,213.43 L347.01,212.45 L347.16,211.46 L347.31,210.47 L347.47,209.48 L347.62,208.49 L347.77,207.50 L347.93,206.52 L348.09,205.53 L348.26,204.54 L348.43,203.56 L348.61,202.57 L348.78,201.59 L348.95,200.60 L349.13,199.62 L349.30,198.63 L349.48,197.65 L349.65,196.66 L349.83,195.68 L350.00,194.69 L350.17,193.71 L350.34,192.72 L350.50,191.74 L350.66,190.75 L350.82,189.76 L350.97,188.77 L351.13,187.79 L351.29,186.80 L351.45,185.81 L351.60,184.82 L351.76,183.83 L351.92,182.85 L352.08,181.86 L352.23,180.87 L352.38,179.88 L352.53,178.89 L352.66,177.90 L352.79,176.91 L352.92,175.92 L353.05,174.93 L353.18,173.93 L353.31,172.94 L353.43,171.95 L353.56,170.96 L353.69,169.97 L353.82,168.98 L353.95,167.98 L354.08,166.99 L354.22,166.00 L354.37,165.01 L354.54,164.03 L354.70,163.04 L354.87,162.05 L355.04,161.07 L355.20,160.08 L355.37,159.10 L355.54,158.11 L355.71,157.12 L355.87,156.14 L356.04,155.15 L356.21,154.17 L356.38,153.18 L356.55,152.19 L356.72,151.21 L356.90,150.23 L357.11,149.25 L357.33,148.27 L357.55,147.30 L357.78,146.32 L358.01,145.35 L358.23,144.38 L358.46,143.40 L358.69,142.43 L358.91,141.45 L359.14,140.48 L359.37,139.51 L359.59,138.53 L359.82,137.56 L360.05,136.58 L360.28,135.61 L360.50,134.64 L360.73,133.66 L360.98,132.69 L361.23,131.73 L361.50,130.76 L361.78,129.80 L362.06,128.84 L362.33,127.88 L362.61,126.92 L362.89,125.96 L363.16,125.00 L363.44,124.04 L363.72,123.08 L363.99,122.11 L364.27,121.15 L364.55,120.19 L364.83,119.23 L365.10,118.27 L365.39,117.31 L365.68,116.36 L365.99,115.41 L366.32,114.46 L366.65,113.52 L366.98,112.57 L367.31,111.63 L367.65,110.69 L368.00,109.75 L368.38,108.83 L368.78,107.91 L369.19,107.00 L369.60,106.09 L370.01,105.18 L370.43,104.27 L370.84,103.35 L371.25,102.44 L371.66,101.53 L372.08,100.62 L372.49,99.71 L372.90,98.80 L373.33,97.90 L373.78,97.01 L374.29,96.16 L374.86,95.33 L375.45,94.53 L376.04,93.72 L376.64,92.92 L377.24,92.12 L377.83,91.32 L378.43,90.52 L379.03,89.71 L379.63,88.92 L380.25,88.14 L380.93,87.43 L381.70,86.82 L382.53,86.28 L383.39,85.78 L384.26,85.28 L385.12,84.78 L385.99,84.28 L386.86,83.79 L387.73,83.30 L388.62,82.86 L389.54,82.51 L390.50,82.25 L391.47,82.04 L392.45,81.84 L393.43,81.65 L394.42,81.45 L395.40,81.26 L396.38,81.07 L397.36,80.88 L398.34,80.69 L399.32,80.50 L400.31,80.36 L401.30,80.30 L402.29,80.31 L403.29,80.36 L404.29,80.42 L405.29,80.48 L406.29,80.54 L407.28,80.60 L408.28,80.67 L409.28,80.73 L410.28,80.79 L411.28,80.85 L412.27,80.91 L413.27,80.98 L414.27,81.04 L415.27,81.10 L416.27,81.16 L417.27,81.23 L418.26,81.30 L419.24,81.42 L420.20,81.64 L421.12,81.98 L422.01,82.41 L422.90,82.86 L423.79,83.33 L424.68,83.79 L425.57,84.24 L426.47,84.67 L427.38,85.07 L428.32,85.42 L429.26,85.75 L430.20,86.08 L431.14,86.42 L432.07,86.80 L432.98,87.21 L433.88,87.64 L434.77,88.09 L435.66,88.56 L436.52,89.05 L437.37,89.58 L438.20,90.14 L439.02,90.70 L439.85,91.27 L440.67,91.83 L441.50,92.40 L442.32,92.96 L443.15,93.53 L443.97,94.11 L444.78,94.68 L445.60,95.26 L446.41,95.84 L447.23,96.42 L448.04,97.00 L448.85,97.59 L449.64,98.20 L450.42,98.83 L451.18,99.48 L451.93,100.13 L452.69,100.79 L453.44,101.45 L454.20,102.10 L454.95,102.76 L455.70,103.42 L456.46,104.08 L457.21,104.73 L457.97,105.39 L458.72,106.04 L459.48,106.70 L460.23,107.36 L460.99,108.01 L461.76,108.65 L462.55,109.24 L463.39,109.77 L464.26,110.25 L465.16,110.69 L466.06,111.13 L466.96,111.56 L467.87,111.96 L468.80,112.29 L469.76,112.51 L470.74,112.64 L471.74,112.73 L472.73,112.81 L473.73,112.89 L474.73,112.95 L475.72,112.98 L476.72,112.95 L477.70,112.84 L478.66,112.62 L479.60,112.30 L480.53,111.95 L481.47,111.60 L482.40,111.24 L483.34,110.88 L484.27,110.53 L485.20,110.17 L486.14,109.81 L487.07,109.46 L488.00,109.09 L488.92,108.71 L489.79,108.26 L490.59,107.69 L491.34,107.04 L492.05,106.35 L492.76,105.64 L493.47,104.93 L494.17,104.23 L494.88,103.52 L495.59,102.81 L496.30,102.10 L497.00,101.40 L497.71,100.69 L498.42,99.98 L499.13,99.28 L499.86,98.60 L500.61,97.94 L501.38,97.30 L502.15,96.67 L502.93,96.04 L503.71,95.42 L504.49,94.79 L505.27,94.16 L506.05,93.54 L506.83,92.91 L507.61,92.28 L508.39,91.66 L509.17,91.03 L509.95,90.41 L510.74,89.79 L511.54,89.19 L512.36,88.63 L513.21,88.10 L514.07,87.59 L514.92,87.07 L515.78,86.56 L516.64,86.04 L517.50,85.53 L518.36,85.02 L519.21,84.50 L520.07,83.99 L520.93,83.48 L521.79,82.97 L522.67,82.50 L523.57,82.12 L524.52,81.84 L525.49,81.63 L526.47,81.44 L527.46,81.27 L528.44,81.09 L529.43,80.91 L530.41,80.73 L531.40,80.56 L532.38,80.38 L533.36,80.20 L534.35,80.02 L535.33,79.84 L536.32,79.67 L537.30,79.49 L538.29,79.32 L539.27,79.16 L540.26,79.03 L541.26,78.95 L542.26,78.89 L543.25,78.84 L544.25,78.79 L545.25,78.74 L546.25,78.69 L547.25,78.64 L548.25,78.59 L549.25,78.54 L550.25,78.49 L551.25,78.44 L552.24,78.39 L553.24,78.34 L554.24,78.29 L555.24,78.24 L556.24,78.19 L557.24,78.14 L558.24,78.09 L559.24,78.04 L560.24,78.00 L561.24,77.97 L562.24,77.93 L563.23,77.90 L564.23,77.87 L565.23,77.84 L566.23,77.81 L567.23,77.78 L568.23,77.75 L569.23,77.72 L570.23,77.69 L571.23,77.67 L572.23,77.65 L573.23,77.65 L574.23,77.70 L575.22,77.78 L576.22,77.87 L577.22,77.96 L578.21,78.05 L579.21,78.15 L580.20,78.24 L581.20,78.33 L582.19,78.43 L583.19,78.52 L584.19,78.59 L585.18,78.62 L586.18,78.59 L587.18,78.53 L588.17,78.46 L589.17,78.38 L590.17,78.30 L591.16,78.22 L592.16,78.15 L593.16,78.07 L594.16,77.99 L595.15,77.91 L596.15,77.83 L597.15,77.75 L598.14,77.67 L599.14,77.58 L600.13,77.47 L601.13,77.35 L602.12,77.24 L603.11,77.12 L604.11,77.00 L605.10,76.88 L606.09,76.76 L607.08,76.64 L608.08,76.52 L609.07,76.40 L610.06,76.28 L611.06,76.16 L612.05,76.04 L613.04,75.92 L614.04,75.80 L615.03,75.68 L616.02,75.56 L617.01,75.44 L618.01,75.32 L619.00,75.20" fill="none" stroke="#45d845" stroke-width="2.00" stroke-linejoin="round" stroke-dasharray="8.5,3.5,1.5,3" />
<path d="M72.00,73.00 L73.00,73.01 L74.00,73.01 L75.00,73.02 L76.00,73.02 L77.00,73.03 L78.00,73.03 L79.00,73.04 L80.00,73.04 L81.00,73.05 L82.00,73.05 L83.00,73.06 L84.00,73.06 L85.00,73.07 L86.00,73.07 L87.00,73.08 L88.00,73.08 L89.00,73.09 L90.00,73.09 L91.00,73.10 L92.00,73.11 L93.00,73.11 L94.00,73.12 L95.00,73.12 L96.00,73.13 L97.00,73.13 L98.00,73.14 L99.00,73.14 L100.00,73.15 L101.00,73.15 L102.00,73.16 L103.00,73.16 L104.00,73.17 L105.01,73.17 L106.01,73.18 L107.01,73.18 L108.01,73.19 L109.01,73.19 L110.01,73.20 L111.01,73.20 L112.01,73.21 L113.01,73.22 L114.01,73.22 L115.01,73.23 L116.01,73.23 L117.01,73.24 L118.01,73.24 L119.01,73.25 L120.01,73.25 L121.01,73.26 L122.01,73.26 L123.01,73.27 L124.01,73.27 L125.01,73.28 L126.01,73.28 L127.01,73.29 L128.01,73.29 L129.01,73.30 L130.01,73.30 L131.01,73.31 L132.01,73.31 L133.01,73.32 L134.01,73.32 L135.01,73.33 L136.01,73.33 L137.01,73.34 L138.01,73.34 L139.01,73.35 L140.01,73.35 L141.01,73.36 L142.01,73.36 L143.01,73.37 L144.01,73.37 L145.01,73.38 L146.01,73.38 L147.01,73.39 L148.01,73.39 L149.01,73.40 L150.01,73.41 L151.01,73.42 L152.01,73.44 L153.01,73.46 L154.01,73.48 L155.01,73.50 L156.01,73.52 L157.01,73.54 L158.01,73.56 L159.01,73.58 L160.01,73.60 L161.01,73.62 L162.01,73.64 L163.01,73.66 L164.01,73.68 L165.01,73.70 L166.01,73.72 L167.01,73.74 L168.01,73.76 L169.01,73.78 L170.01,73.80 L171.01,73.82 L172.01,73.84 L173.01,73.86 L174.01,73.88 L175.01,73.90 L176.01,73.92 L177.01,73.94 L178.01,73.96 L179.01,73.98 L180.01,74.01 L181.01,74.04 L182.01,74.07 L183.01,74.11 L184.01,74.14 L185.01,74.18 L186.01,74.21 L187.01,74.25 L188.01,74.28 L189.01,74.32 L190.01,74.35 L191.01,74.39 L192.01,74.42 L193.01,74.46 L194.00,74.49 L195.00,74.53 L196.00,74.56 L197.00,74.60 L198.00,74.63 L199.00,74.67 L200.00,74.70 L201.00,74.74 L202.00,74.77 L203.00,74.81 L204.00,74.84 L205.00,74.87 L206.00,74.91 L207.00,74.94 L208.00,74.98 L209.00,75.01 L210.00,75.05 L211.00,75.08 L212.00,75.12 L213.00,75.15 L214.00,75.19 L215.00,75.22 L215.99,75.26 L216.99,75.29 L217.99,75.33 L218.99,75.38 L219.99,75.44 L220.99,75.53 L221.98,75.64 L222.97,75.76 L223.97,75.88 L224.96,76.00 L225.95,76.11 L226.94,76.23 L227.94,76.35 L228.93,76.47 L229.92,76.59 L230.92,76.71 L231.91,76.83 L232.90,76.95 L233.90,77.07 L234.89,77.19 L235.88,77.31 L236.87,77.43 L237.87,77.55 L238.86,77.68 L239.84,77.83 L240.82,78.03 L241.80,78.25 L242.77,78.49 L243.74,78.73 L244.71,78.97 L245.68,79.21 L246.65,79.45 L247.62,79.69 L248.59,79.93 L249.56,80.17 L250.53,80.43 L251.48,80.73 L252.40,81.10 L253.31,81.52 L254.20,81.96 L255.09,82.41 L255.99,82.86 L256.88,83.31 L257.77,83.76 L258.67,84.21 L259.56,84.66 L260.45,85.11 L261.34,85.57 L262.23,86.03 L263.08,86.54 L263.90,87.10 L264.68,87.73 L265.44,88.37 L266.19,89.03 L266.94,89.69 L267.70,90.34 L268.45,91.00 L269.21,91.66 L269.96,92.31 L270.71,92.97 L271.46,93.63 L272.20,94.31 L272.91,95.01 L273.58,95.75 L274.24,96.50 L274.89,97.26 L275.54,98.02 L276.19,98.78 L276.84,99.54 L277.49,100.31 L278.13,101.07 L278.78,101.83 L279.42,102.60 L280.04,103.38 L280.65,104.17 L281.26,104.97 L281.86,105.77 L282.46,106.57 L283.06,107.37 L283.66,108.16 L284.27,108.96 L284.86,109.77 L285.42,110.59 L285.94,111.44 L286.40,112.33 L286.82,113.23 L287.24,114.13 L287.66,115.04 L288.08,115.95 L288.50,116.86 L288.92,117.77 L289.34,118.68 L289.75,119.59 L290.17,120.49 L290.59,121.40 L291.01,122.31 L291.43,123.22 L291.85,124.13 L292.26,125.04 L292.68,125.95 L293.07,126.86 L293.42,127.80 L293.72,128.75 L293.99,129.71 L294.25,130.68 L294.51,131.64 L294.76,132.61 L295.02,133.58 L295.28,134.54 L295.54,135.51 L295.80,136.47 L296.05,137.44 L296.31,138.41 L296.57,139.37 L296.83,140.34 L297.09,141.31 L297.34,142.27 L297.60,143.24 L297.85,144.21 L298.09,145.18 L298.31,146.15 L298.52,147.13 L298.72,148.11 L298.92,149.09 L299.12,150.07 L299.33,151.05 L299.53,152.03 L299.73,153.01 L299.93,153.99 L300.13,154.97 L300.34,155.95 L300.54,156.93 L300.74,157.91 L300.94,158.89 L301.14,159.87 L301.34,160.85 L301.55,161.83 L301.75,162.81 L301.95,163.78 L302.15,164.76 L302.35,165.75 L302.54,166.73 L302.74,167.71 L302.94,168.69 L303.13,169.67 L303.33,170.65 L303.53,171.63 L303.72,172.61 L303.92,173.59 L304.11,174.57 L304.31,175.55 L304.51,176.53 L304.70,177.51 L304.90,178.49 L305.09,179.48 L305.29,180.46 L305.48,181.44 L305.66,182.42 L305.82,183.41 L305.97,184.40 L306.11,185.39 L306.25,186.38 L306.39,187.37 L306.53,188.36 L306.67,189.35 L306.81,190.34 L306.96,191.33 L307.10,192.32 L307.24,193.31 L307.38,194.30 L307.52,195.29 L307.66,196.28 L307.80,197.27 L307.94,198.26 L308.08,199.25 L308.22,200.24 L308.36,201.23 L308.50,202.22 L308.65,203.21 L308.79,204.20 L308.94,205.19 L309.09,206.18 L309.24,207.17 L309.39,208.16 L309.55,209.14 L309.70,210.13 L309.85,211.12 L310.00,212.11 L310.15,213.10 L310.30,214.09 L310.45,215.08 L310.60,216.07 L310.75,217.05 L310.90,218.04 L311.06,219.03 L311.22,220.02 L311.40,221.00 L311.59,221.98 L311.78,222.97 L311.97,223.95 L312.16,224.93 L312.35,225.91 L312.54,226.89 L312.73,227.87 L312.92,228.86 L313.11,229.84 L313.30,230.82 L313.49,231.80 L313.68,232.78 L313.87,233.77 L314.06,234.75 L314.25,235.73 L314.44,236.71 L314.61,237.70 L314.76,238.69 L314.91,239.67 L315.05,240.67 L315.19,241.66 L315.33,242.65 L315.47,243.64 L315.61,244.63 L315.75,245.62 L315.89,246.61 L316.03,247.60 L316.17,248.59 L316.31,249.58 L316.46,250.57 L316.62,251.55 L316.80,252.54 L316.99,253.52 L317.19,254.50 L317.40,255.48 L317.60,256.46 L317.80,257.44 L318.01,258.41 L318.24,259.39 L318.49,260.35 L318.76,261.32 L319.04,262.28 L319.31,263.24 L319.59,264.20 L319.87,265.16 L320.15,266.12 L320.43,267.08 L320.73,268.04 L321.04,268.98 L321.38,269.93 L321.73,270.86 L322.08,271.80 L322.45,272.73 L322.84,273.64 L323.30,274.53 L323.81,275.38 L324.35,276.21 L324.94,277.00 L325.59,277.64 L326.32,277.97 L327.08,277.85 L327.81,277.37 L328.50,276.69 L329.12,275.94 L329.66,275.11 L330.11,274.23 L330.51,273.32 L330.91,272.40 L331.30,271.48 L331.69,270.56 L332.08,269.64 L332.47,268.72 L332.86,267.80 L333.25,266.87 L333.61,265.94 L333.93,265.00 L334.22,264.04 L334.49,263.08 L334.75,262.11 L335.01,261.15 L335.27,260.18 L335.53,259.22 L335.78,258.25 L336.03,257.28 L336.28,256.31 L336.52,255.34 L336.75,254.37 L336.93,253.39 L337.09,252.40 L337.22,251.41 L337.35,250.42 L337.48,249.43 L337.61,248.44 L337.74,247.44 L337.87,246.45 L338.00,245.46 L338.13,244.47 L338.26,243.48 L338.39,242.48 L338.52,241.49 L338.65,240.50 L338.79,239.51 L338.94,238.52 L339.08,237.53 L339.23,236.54 L339.38,235.55 L339.53,234.57 L339.68,233.58 L339.82,232.59 L339.97,231.60 L340.12,230.61 L340.28,229.62 L340.44,228.63 L340.62,227.65 L340.79,226.67 L340.97,225.68 L341.15,224.70 L341.32,223.71 L341.50,222.73 L341.68,221.74 L341.85,220.76 L342.03,219.77 L342.21,218.79 L342.39,217.81 L342.56,216.82 L342.74,215.84 L342.91,214.85 L343.09,213.87 L343.26,212.88 L343.43,211.90 L343.61,210.91 L343.78,209.93 L343.95,208.94 L344.13,207.96 L344.30,206.97 L344.47,205.99 L344.65,205.00 L344.81,204.02 L344.97,203.03 L345.10,202.04 L345.22,201.04 L345.33,200.05 L345.44,199.06 L345.55,198.06 L345.66,197.07 L345.77,196.07 L345.88,195.08 L345.99,194.09 L346.10,193.09 L346.21,192.10 L346.32,191.10 L346.44,190.11 L346.56,189.12 L346.69,188.13 L346.85,187.14 L347.01,186.15 L347.17,185.16 L347.33,184.18 L347.50,183.19 L347.66,182.20 L347.82,181.22 L347.99,180.23 L348.15,179.24 L348.32,178.26 L348.48,177.27 L348.64,176.28 L348.81,175.30 L348.97,174.31 L349.13,173.32 L349.30,172.34 L349.46,171.35 L349.62,170.36 L349.79,169.38 L349.96,168.39 L350.13,167.41 L350.32,166.43 L350.51,165.44 L350.71,164.46 L350.90,163.48 L351.10,162.50 L351.30,161.52 L351.49,160.54 L351.69,159.56 L351.88,158.58 L352.08,157.60 L352.28,156.62 L352.47,155.64 L352.67,154.66 L352.87,153.67 L353.06,152.69 L353.26,151.71 L353.46,150.73 L353.67,149.76 L353.89,148.78 L354.12,147.81 L354.35,146.83 L354.58,145.86 L354.81,144.89 L355.04,143.92 L355.28,142.94 L355.51,141.97 L355.74,141.00 L355.97,140.02 L356.20,139.05 L356.43,138.08 L356.66,137.10 L356.90,136.13 L357.14,135.16 L357.38,134.19 L357.62,133.22 L357.86,132.25 L358.11,131.28 L358.35,130.31 L358.59,129.34 L358.83,128.37 L359.08,127.40 L359.32,126.43 L359.56,125.46 L359.80,124.49 L360.05,123.52 L360.29,122.55 L360.53,121.58 L360.77,120.61 L361.02,119.64 L361.26,118.67 L361.52,117.70 L361.80,116.74 L362.10,115.79 L362.41,114.83 L362.72,113.88 L363.04,112.94 L363.37,111.99 L363.72,111.06 L364.09,110.13 L364.47,109.20 L364.85,108.28 L365.23,107.35 L365.61,106.43 L365.99,105.50 L366.37,104.58 L366.75,103.65 L367.13,102.73 L367.51,101.80 L367.89,100.88 L368.27,99.95 L368.66,99.03 L369.08,98.13 L369.54,97.24 L370.05,96.38 L370.57,95.54 L371.11,94.69 L371.65,93.85 L372.18,93.00 L372.72,92.16 L373.25,91.31 L373.79,90.47 L374.34,89.64 L374.94,88.85 L375.62,88.14 L376.37,87.51 L377.17,86.91 L377.98,86.33 L378.80,85.74 L379.61,85.16 L380.42,84.57 L381.23,83.99 L382.05,83.42 L382.89,82.89 L383.77,82.45 L384.70,82.09 L385.64,81.77 L386.60,81.47 L387.55,81.17 L388.51,80.88 L389.46,80.58 L390.42,80.28 L391.37,80.01 L392.34,79.77 L393.32,79.61 L394.31,79.52 L395.31,79.46 L396.31,79.41 L397.31,79.36 L398.31,79.31 L399.30,79.26 L400.30,79.20 L401.30,79.15 L402.30,79.11 L403.30,79.07 L404.30,79.06 L405.30,79.09 L406.29,79.15 L407.29,79.23 L408.29,79.30 L409.28,79.38 L410.28,79.45 L411.28,79.53 L412.28,79.61 L413.27,79.68 L414.27,79.76 L415.27,79.83 L416.27,79.91 L417.26,79.99 L418.26,80.07 L419.24,80.19 L420.21,80.40 L421.15,80.71 L422.07,81.09 L422.98,81.49 L423.89,81.90 L424.81,82.31 L425.72,82.71 L426.64,83.10 L427.57,83.46 L428.51,83.81 L429.45,84.16 L430.39,84.50 L431.33,84.84 L432.27,85.19 L433.20,85.55 L434.12,85.94 L435.04,86.34 L435.95,86.74 L436.85,87.17 L437.72,87.64 L438.56,88.19 L439.36,88.77 L440.16,89.37 L440.96,89.98 L441.76,90.58 L442.55,91.19 L443.35,91.79 L444.15,92.39 L444.96,92.97 L445.79,93.53 L446.64,94.05 L447.50,94.57 L448.36,95.08 L449.21,95.60 L450.05,96.15 L450.86,96.73 L451.64,97.35 L452.41,97.98 L453.18,98.62 L453.95,99.26 L454.72,99.91 L455.48,100.55 L456.25,101.19 L457.02,101.83 L457.79,102.46 L458.58,103.08 L459.37,103.68 L460.18,104.28 L460.98,104.87 L461.79,105.46 L462.60,106.04 L463.44,106.58 L464.31,107.07 L465.21,107.50 L466.12,107.91 L467.03,108.32 L467.94,108.72 L468.86,109.12 L469.78,109.50 L470.72,109.83 L471.68,110.10 L472.66,110.31 L473.63,110.49 L474.62,110.61 L475.60,110.63 L476.59,110.54 L477.58,110.40 L478.56,110.24 L479.54,110.05 L480.50,109.79 L481.44,109.47 L482.37,109.10 L483.29,108.72 L484.22,108.34 L485.14,107.95 L486.06,107.57 L486.99,107.19 L487.91,106.80 L488.82,106.40 L489.70,105.95 L490.54,105.42 L491.32,104.81 L492.08,104.16 L492.83,103.50 L493.58,102.84 L494.33,102.18 L495.08,101.52 L495.83,100.86 L496.59,100.20 L497.34,99.54 L498.09,98.88 L498.84,98.22 L499.59,97.57 L500.36,96.92 L501.12,96.27 L501.89,95.63 L502.66,95.00 L503.43,94.36 L504.20,93.72 L504.97,93.08 L505.74,92.45 L506.52,91.82 L507.31,91.20 L508.11,90.61 L508.92,90.02 L509.73,89.43 L510.54,88.85 L511.36,88.27 L512.17,87.68 L512.98,87.10 L513.79,86.52 L514.62,85.96 L515.47,85.43 L516.34,84.95 L517.23,84.49 L518.12,84.04 L519.02,83.59 L519.91,83.15 L520.80,82.70 L521.70,82.26 L522.61,81.84 L523.53,81.46 L524.47,81.16 L525.44,80.89 L526.41,80.65 L527.38,80.41 L528.35,80.16 L529.32,79.92 L530.29,79.68 L531.26,79.44 L532.23,79.19 L533.20,78.95 L534.17,78.73 L535.15,78.53 L536.14,78.38 L537.13,78.25 L538.12,78.13 L539.12,78.01 L540.11,77.89 L541.10,77.77 L542.09,77.65 L543.09,77.53 L544.08,77.41 L545.07,77.30 L546.07,77.20 L547.06,77.12 L548.06,77.07 L549.06,77.04 L550.06,77.01 L551.06,76.99 L552.06,76.96 L553.06,76.94 L554.06,76.91 L555.06,76.89 L556.06,76.86 L557.06,76.84 L558.06,76.82 L559.06,76.82 L560.06,76.82 L561.06,76.84 L562.06,76.85 L563.06,76.86 L564.06,76.88 L565.06,76.89 L566.06,76.90 L567.06,76.92 L568.06,76.93 L569.06,76.94 L570.06,76.96 L571.06,76.97 L572.06,76.98 L573.06,76.97 L574.06,76.94 L575.06,76.90 L576.06,76.84 L577.06,76.78 L578.05,76.72 L579.05,76.66 L580.05,76.60 L581.05,76.54 L582.05,76.48 L583.05,76.42 L584.04,76.36 L585.04,76.30 L586.04,76.24 L587.04,76.18 L588.04,76.12 L589.04,76.06 L590.03,76.00 L591.03,75.95 L592.03,75.89 L593.03,75.83 L594.03,75.77 L595.03,75.71 L596.02,75.65 L597.02,75.59 L598.02,75.54 L599.02,75.49 L600.02,75.44 L601.02,75.39 L602.02,75.34 L603.02,75.29 L604.02,75.24 L605.01,75.19 L606.01,75.14 L607.01,75.09 L608.01,75.04 L609.01,74.99 L610.01,74.95 L611.01,74.90 L612.01,74.85 L613.01,74.80 L614.01,74.75 L615.00,74.70 L616.00,74.65 L617.00,74.60 L618.00,74.55 L619.00,74.50" fill="none" stroke="#5e1a6e" stroke-width="2.00" stroke-linejoin="round" stroke-dasharray="8.5,3.5,1.5,3" />
<path d="M63.00,58.80 L64.00,58.80 L65.00,58.80 L66.00,58.80 L67.00,58.80 L68.00,58.80 L69.00,58.80 L70.00,58.80 L71.00,58.80 L72.00,58.81 L73.00,58.81 L74.00,58.82 L75.00,58.82 L76.00,58.83 L77.00,58.84 L78.00,58.85 L79.00,58.86 L80.00,58.86 L81.00,58.87 L82.01,58.88 L83.01,58.89 L84.01,58.89 L85.01,58.90 L86.01,58.91 L87.01,58.92 L88.01,58.93 L89.01,58.93 L90.01,58.94 L91.01,58.95 L92.01,58.96 L93.01,58.97 L94.01,58.97 L95.01,58.98 L96.01,58.99 L97.01,59.00 L98.01,59.01 L99.01,59.01 L100.01,59.02 L101.01,59.03 L102.01,59.04 L103.01,59.04 L104.01,59.05 L105.01,59.06 L106.01,59.07 L107.01,59.08 L108.01,59.08 L109.01,59.09 L110.01,59.10 L111.01,59.11 L112.01,59.12 L113.01,59.12 L114.01,59.13 L115.01,59.14 L116.01,59.15 L117.01,59.16 L118.01,59.16 L119.01,59.17 L120.02,59.18 L121.02,59.19 L122.02,59.20 L123.02,59.20 L124.02,59.21 L125.02,59.22 L126.02,59.23 L127.02,59.24 L128.02,59.24 L129.02,59.25 L130.02,59.26 L131.02,59.27 L132.02,59.28 L133.02,59.28 L134.02,59.29 L135.02,59.30 L136.02,59.31 L137.02,59.32 L138.02,59.32 L139.02,59.33 L140.02,59.34 L141.02,59.35 L142.02,59.36 L143.02,59.36 L144.02,59.37 L145.02,59.38 L146.02,59.39 L147.02,59.40 L148.02,59.40 L149.02,59.41 L150.02,59.42 L151.02,59.43 L152.02,59.44 L153.02,59.44 L154.02,59.45 L155.02,59.46 L156.02,59.47 L157.02,59.48 L158.03,59.48 L159.03,59.49 L160.03,59.50 L161.03,59.51 L162.03,59.51 L163.03,59.52 L164.03,59.52 L165.03,59.53 L166.03,59.54 L167.03,59.54 L168.03,59.55 L169.03,59.55 L170.03,59.56 L171.03,59.57 L172.03,59.57 L173.03,59.58 L174.03,59.58 L175.03,59.59 L176.03,59.60 L177.03,59.60 L178.03,59.61 L179.03,59.61 L180.03,59.62 L181.03,59.63 L182.03,59.63 L183.03,59.64 L184.03,59.64 L185.03,59.65 L186.03,59.66 L187.03,59.66 L188.03,59.67 L189.03,59.67 L190.03,59.68 L191.03,59.69 L192.03,59.69 L193.03,59.70 L194.03,59.70 L195.04,59.71 L196.04,59.72 L197.04,59.72 L198.04,59.73 L199.04,59.73 L200.04,59.74 L201.04,59.75 L202.04,59.75 L203.04,59.76 L204.04,59.76 L205.04,59.77 L206.04,59.78 L207.04,59.78 L208.04,59.79 L209.04,59.79 L210.04,59.80 L211.04,59.81 L212.04,59.81 L213.04,59.82 L214.04,59.83 L215.04,59.83 L216.04,59.84 L217.04,59.85 L218.04,59.85 L219.04,59.86 L220.04,59.87 L221.04,59.87 L222.04,59.88 L223.04,59.89 L224.04,59.89 L225.04,59.90 L226.04,59.91 L227.04,59.91 L228.04,59.92 L229.04,59.93 L230.04,59.93 L231.04,59.94 L232.05,59.95 L233.05,59.95 L234.05,59.96 L235.05,59.97 L236.05,59.98 L237.05,59.99 L238.05,60.00 L239.05,60.02 L240.05,60.05 L241.05,60.08 L242.04,60.12 L243.04,60.17 L244.04,60.22 L245.04,60.27 L246.04,60.32 L247.04,60.38 L248.04,60.43 L249.04,60.48 L250.04,60.54 L251.03,60.59 L252.03,60.65 L253.03,60.71 L254.03,60.78 L255.03,60.85 L256.02,60.93 L257.02,61.02 L258.01,61.12 L259.01,61.22 L260.00,61.33 L261.00,61.44 L261.99,61.57 L262.98,61.70 L263.97,61.85 L264.96,62.01 L265.94,62.17 L266.93,62.34 L267.91,62.52 L268.90,62.70 L269.88,62.87 L270.86,63.06 L271.84,63.25 L272.82,63.44 L273.80,63.66 L274.77,63.90 L275.73,64.16 L276.68,64.44 L277.63,64.76 L278.57,65.09 L279.49,65.46 L280.41,65.86 L281.30,66.28 L282.19,66.74 L283.05,67.23 L283.91,67.74 L284.75,68.27 L285.58,68.83 L286.40,69.40 L287.19,70.00 L287.97,70.62 L288.73,71.27 L289.49,71.92 L290.23,72.58 L290.98,73.26 L291.71,73.93 L292.44,74.62 L293.16,75.31 L293.88,76.00 L294.59,76.71 L295.30,77.41 L296.00,78.13 L296.68,78.85 L297.35,79.59 L298.00,80.35 L298.63,81.12 L299.24,81.91 L299.83,82.71 L300.40,83.53 L300.97,84.36 L301.52,85.19 L302.06,86.03 L302.60,86.87 L303.12,87.73 L303.64,88.58 L304.14,89.44 L304.65,90.31 L305.14,91.18 L305.63,92.05 L306.10,92.93 L306.57,93.81 L307.04,94.70 L307.49,95.59 L307.94,96.48 L308.37,97.38 L308.80,98.29 L309.22,99.19 L309.64,100.10 L310.05,101.02 L310.45,101.93 L310.86,102.84 L311.27,103.76 L311.67,104.67 L312.07,105.59 L312.47,106.50 L312.87,107.42 L313.24,108.35 L313.61,109.28 L313.95,110.22 L314.28,111.16 L314.60,112.11 L314.90,113.06 L315.20,114.01 L315.49,114.97 L315.77,115.93 L316.04,116.89 L316.30,117.86 L316.55,118.83 L316.79,119.80 L317.03,120.77 L317.26,121.74 L317.50,122.71 L317.73,123.68 L317.97,124.66 L318.20,125.63 L318.44,126.60 L318.67,127.57 L318.90,128.55 L319.13,129.52 L319.35,130.50 L319.57,131.47 L319.79,132.45 L320.00,133.43 L320.20,134.41 L320.41,135.39 L320.61,136.36 L320.82,137.34 L321.02,138.32 L321.22,139.30 L321.43,140.28 L321.63,141.26 L321.83,142.24 L322.04,143.22 L322.24,144.20 L322.44,145.18 L322.65,146.16 L322.85,147.14 L323.06,148.12 L323.26,149.09 L323.47,150.07 L323.69,151.05 L323.90,152.03 L324.12,153.00 L324.34,153.98 L324.55,154.96 L324.77,155.93 L324.99,156.91 L325.21,157.88 L325.43,158.86 L325.65,159.84 L325.87,160.81 L326.08,161.79 L326.30,162.77 L326.52,163.74 L326.74,164.72 L326.96,165.69 L327.18,166.67 L327.39,167.65 L327.61,168.62 L327.82,169.60 L328.03,170.58 L328.24,171.56 L328.44,172.54 L328.64,173.52 L328.85,174.50 L329.05,175.48 L329.25,176.45 L329.45,177.43 L329.65,178.41 L329.86,179.39 L330.06,180.37 L330.26,181.35 L330.46,182.33 L330.66,183.31 L330.87,184.29 L331.07,185.27 L331.27,186.25 L331.47,187.23 L331.66,188.21 L331.86,189.19 L332.04,190.18 L332.23,191.16 L332.41,192.14 L332.59,193.13 L332.77,194.11 L332.94,195.10 L333.12,196.08 L333.29,197.07 L333.47,198.05 L333.64,199.04 L333.82,200.02 L333.99,201.01 L334.17,201.99 L334.34,202.98 L334.51,203.96 L334.67,204.95 L334.83,205.94 L334.99,206.92 L335.13,207.91 L335.28,208.90 L335.42,209.89 L335.55,210.88 L335.69,211.88 L335.82,212.87 L335.96,213.86 L336.10,214.85 L336.23,215.84 L336.36,216.83 L336.50,217.82 L336.63,218.81 L336.76,219.81 L336.88,220.80 L337.01,221.79 L337.13,222.78 L337.25,223.78 L337.37,224.77 L337.48,225.76 L337.60,226.76 L337.72,227.75 L337.84,228.74 L337.96,229.74 L338.07,230.73 L338.19,231.72 L338.31,232.72 L338.44,233.71 L338.56,234.70 L338.69,235.69 L338.83,236.68 L338.98,237.67 L339.12,238.66 L339.27,239.65 L339.43,240.64 L339.58,241.63 L339.73,242.62 L339.89,243.60 L340.04,244.59 L340.20,245.58 L340.35,246.57 L340.51,247.56 L340.66,248.55 L340.81,249.53 L340.97,250.52 L341.12,251.51 L341.28,252.50 L341.43,253.49 L341.58,254.48 L341.73,255.47 L341.89,256.45 L342.04,257.44 L342.19,258.43 L342.34,259.42 L342.49,260.41 L342.64,261.40 L342.79,262.39 L342.94,263.38 L343.09,264.37 L343.23,265.36 L343.36,266.35 L343.50,267.34 L343.63,268.33 L343.76,269.32 L343.89,270.31 L344.02,271.30 L344.15,272.30 L344.28,273.29 L344.41,274.28 L344.54,275.27 L344.68,276.26 L344.83,277.25 L345.00,278.23 L345.19,279.21 L345.41,280.18 L345.65,281.15 L345.91,282.11 L346.19,283.07 L346.47,284.03 L346.77,284.99 L347.07,285.94 L347.38,286.89 L347.70,287.84 L348.03,288.78 L348.38,289.72 L348.74,290.65 L349.11,291.57 L349.50,292.50 L349.89,293.42 L350.28,294.34 L350.68,295.25 L351.09,296.17 L351.51,297.07 L351.95,297.97 L352.41,298.85 L352.90,299.72 L353.40,300.58 L353.91,301.44 L354.43,302.29 L354.96,303.14 L355.50,303.99 L356.04,304.83 L356.59,305.66 L357.16,306.48 L357.75,307.27 L358.37,308.05 L359.02,308.80 L359.70,309.54 L360.38,310.26 L361.08,310.97 L361.79,311.68 L362.50,312.38 L363.22,313.08 L363.94,313.77 L364.68,314.44 L365.42,315.10 L366.19,315.75 L366.96,316.38 L367.75,316.99 L368.55,317.58 L369.37,318.13 L370.22,318.65 L371.08,319.13 L371.97,319.56 L372.88,319.95 L373.81,320.28 L374.76,320.57 L375.72,320.81 L376.69,321.01 L377.67,321.19 L378.66,321.34 L379.65,321.49 L380.64,321.63 L381.63,321.76 L382.62,321.90 L383.61,322.03 L384.60,322.17 L385.59,322.30 L386.58,322.43 L387.58,322.55 L388.57,322.67 L389.56,322.78 L390.56,322.87 L391.56,322.96 L392.55,323.04 L393.55,323.12 L394.55,323.20 L395.54,323.27 L396.54,323.34 L397.54,323.42 L398.54,323.49 L399.53,323.57 L400.53,323.65 L401.53,323.73 L402.53,323.81 L403.52,323.89 L404.52,323.97 L405.52,324.05 L406.51,324.13 L407.51,324.21 L408.51,324.29 L409.50,324.37 L410.50,324.46 L411.50,324.54 L412.50,324.62 L413.49,324.71 L414.49,324.79 L415.49,324.88 L416.48,324.96 L417.48,325.05 L418.47,325.14 L419.47,325.24 L420.47,325.33 L421.46,325.44 L422.45,325.54 L423.45,325.65 L424.44,325.77 L425.44,325.88 L426.43,325.99 L427.42,326.11 L428.42,326.23 L429.41,326.35 L430.40,326.48 L431.39,326.61 L432.38,326.75 L433.37,326.89 L434.36,327.04 L435.35,327.21 L436.33,327.38 L437.30,327.59 L438.27,327.82 L439.22,328.10 L440.16,328.42 L441.08,328.78 L441.99,329.19 L442.88,329.63 L443.76,330.09 L444.64,330.57 L445.51,331.07 L446.38,331.56 L447.24,332.06 L448.11,332.57 L448.97,333.07 L449.83,333.58 L450.70,334.08 L451.56,334.59 L452.41,335.11 L453.27,335.62 L454.13,336.14 L454.98,336.66 L455.84,337.18 L456.69,337.70 L457.54,338.23 L458.38,338.77 L459.22,339.32 L460.04,339.88 L460.85,340.46 L461.65,341.06 L462.45,341.66 L463.23,342.28 L464.02,342.90 L464.80,343.52 L465.59,344.14 L466.37,344.76 L467.15,345.39 L467.94,346.01 L468.72,346.63 L469.50,347.25 L470.28,347.88 L471.07,348.50 L471.85,349.13 L472.63,349.75 L473.41,350.38 L474.19,351.00 L474.97,351.63 L475.75,352.25 L476.53,352.88 L477.31,353.51 L478.09,354.13 L478.87,354.76 L479.65,355.38 L480.43,356.01 L481.22,356.63 L482.01,357.24 L482.81,357.84 L483.61,358.43 L484.43,359.01 L485.25,359.57 L486.08,360.13 L486.92,360.68 L487.75,361.23 L488.59,361.77 L489.43,362.32 L490.27,362.86 L491.11,363.40 L491.95,363.95 L492.80,364.48 L493.65,365.01 L494.50,365.52 L495.37,366.02 L496.24,366.50 L497.12,366.97 L498.01,367.43 L498.90,367.88 L499.80,368.33 L500.69,368.77 L501.59,369.22 L502.49,369.66 L503.39,370.10 L504.29,370.53 L505.20,370.94 L506.11,371.34 L507.03,371.72 L507.97,372.07 L508.91,372.40 L509.85,372.72 L510.81,373.02 L511.76,373.32 L512.72,373.62 L513.67,373.92 L514.63,374.21 L515.58,374.51 L516.53,374.82 L517.48,375.14 L518.42,375.47 L519.36,375.82 L520.29,376.18 L521.22,376.55 L522.14,376.93 L523.05,377.34 L523.95,377.76 L524.84,378.21 L525.70,378.70 L526.55,379.22 L527.37,379.77 L528.19,380.35 L528.98,380.95 L529.77,381.56 L530.55,382.19 L531.32,382.82 L532.08,383.47 L532.84,384.12 L533.60,384.78 L534.35,385.44 L535.10,386.10 L535.85,386.76 L536.60,387.42 L537.35,388.08 L538.10,388.74 L538.85,389.41 L539.60,390.07 L540.34,390.74 L541.09,391.41 L541.83,392.08 L542.57,392.75 L543.31,393.43 L544.05,394.10 L544.79,394.77 L545.53,395.44 L546.28,396.10 L547.04,396.75 L547.80,397.39 L548.58,398.02 L549.37,398.64 L550.17,399.24 L550.97,399.83 L551.78,400.42 L552.59,401.01 L553.40,401.59 L554.21,402.17 L555.03,402.75 L555.86,403.30 L556.70,403.84 L557.55,404.36 L558.42,404.84 L559.30,405.29 L560.20,405.72 L561.11,406.12 L562.03,406.52 L562.95,406.91 L563.87,407.29 L564.80,407.67 L565.73,408.02 L566.67,408.35 L567.62,408.65 L568.58,408.91 L569.55,409.15 L570.52,409.36 L571.50,409.57 L572.48,409.76 L573.46,409.95 L574.45,410.13 L575.43,410.31 L576.41,410.49 L577.40,410.67 L578.38,410.84 L579.37,411.01 L580.36,411.17 L581.34,411.32 L582.33,411.48 L583.32,411.63 L584.31,411.78 L585.30,411.93 L586.29,412.08 L587.28,412.23 L588.27,412.37 L589.26,412.52 L590.25,412.67 L591.24,412.81 L592.23,412.95 L593.22,413.09 L594.21,413.23 L595.20,413.36 L596.19,413.49 L597.18,413.62 L598.18,413.75 L599.17,413.88 L600.16,414.00 L601.15,414.13 L602.14,414.26 L603.13,414.39 L604.13,414.52 L605.12,414.65 L606.11,414.78 L607.10,414.91 L608.09,415.04 L609.09,415.17 L610.08,415.31 L611.07,415.44 L612.06,415.57 L613.05,415.70 L614.04,415.84 L615.03,415.97 L616.03,416.10 L617.02,416.23 L618.01,416.37 L619.00,416.50" fill="none" stroke="#d7aa3c" stroke-width="1.80" stroke-linejoin="round"  />
<path d="M72.00,58.80 L73.00,58.81 L74.00,58.83 L75.00,58.84 L76.00,58.85 L77.00,58.87 L78.00,58.88 L79.00,58.89 L80.00,58.91 L81.01,58.92 L82.01,58.93 L83.01,58.94 L84.01,58.96 L85.01,58.97 L86.01,58.98 L87.01,59.00 L88.01,59.01 L89.01,59.02 L90.01,59.04 L91.01,59.05 L92.01,59.06 L93.01,59.08 L94.01,59.09 L95.01,59.10 L96.01,59.12 L97.01,59.13 L98.01,59.14 L99.02,59.16 L100.02,59.17 L101.02,59.18 L102.02,59.20 L103.02,59.21 L104.02,59.22 L105.02,59.24 L106.02,59.25 L107.02,59.26 L108.02,59.28 L109.02,59.29 L110.02,59.30 L111.02,59.32 L112.02,59.33 L113.02,59.35 L114.02,59.37 L115.02,59.38 L116.03,59.40 L117.03,59.41 L118.03,59.43 L119.03,59.44 L120.03,59.46 L121.03,59.48 L122.03,59.49 L123.03,59.51 L124.03,59.52 L125.03,59.54 L126.03,59.56 L127.03,59.57 L128.03,59.59 L129.03,59.60 L130.03,59.62 L131.03,59.64 L132.03,59.65 L133.03,59.67 L134.03,59.68 L135.04,59.70 L136.04,59.72 L137.04,59.73 L138.04,59.75 L139.04,59.76 L140.04,59.78 L141.04,59.80 L142.04,59.81 L143.04,59.83 L144.04,59.84 L145.04,59.86 L146.04,59.88 L147.04,59.89 L148.04,59.91 L149.04,59.92 L150.04,59.94 L151.04,59.96 L152.04,59.97 L153.04,59.99 L154.05,60.01 L155.05,60.02 L156.05,60.04 L157.05,60.06 L158.05,60.07 L159.05,60.09 L160.05,60.11 L161.05,60.13 L162.05,60.15 L163.05,60.17 L164.05,60.19 L165.05,60.21 L166.05,60.24 L167.05,60.26 L168.05,60.28 L169.05,60.30 L170.05,60.33 L171.05,60.35 L172.05,60.37 L173.05,60.39 L174.05,60.42 L175.05,60.44 L176.06,60.46 L177.06,60.48 L178.06,60.51 L179.06,60.53 L180.06,60.55 L181.06,60.57 L182.06,60.60 L183.06,60.62 L184.06,60.64 L185.06,60.66 L186.06,60.69 L187.06,60.71 L188.06,60.73 L189.06,60.75 L190.06,60.78 L191.06,60.80 L192.06,60.82 L193.06,60.85 L194.06,60.87 L195.06,60.90 L196.06,60.92 L197.06,60.95 L198.06,60.98 L199.06,61.02 L200.06,61.05 L201.06,61.09 L202.06,61.14 L203.06,61.18 L204.06,61.23 L205.06,61.28 L206.06,61.34 L207.06,61.39 L208.06,61.44 L209.06,61.50 L210.06,61.55 L211.06,61.61 L212.05,61.66 L213.05,61.72 L214.05,61.77 L215.05,61.83 L216.05,61.88 L217.05,61.94 L218.05,61.99 L219.05,62.05 L220.05,62.10 L221.05,62.16 L222.05,62.21 L223.05,62.27 L224.04,62.32 L225.04,62.38 L226.04,62.43 L227.04,62.49 L228.04,62.54 L229.04,62.60 L230.04,62.65 L231.04,62.71 L232.04,62.76 L233.04,62.82 L234.04,62.88 L235.03,62.94 L236.03,63.00 L237.03,63.06 L238.03,63.13 L239.03,63.20 L240.03,63.27 L241.02,63.35 L242.02,63.44 L243.02,63.52 L244.01,63.62 L245.01,63.71 L246.00,63.81 L247.00,63.91 L247.99,64.01 L248.99,64.12 L249.98,64.23 L250.97,64.35 L251.97,64.47 L252.95,64.61 L253.94,64.76 L254.92,64.93 L255.91,65.11 L256.88,65.31 L257.86,65.52 L258.83,65.75 L259.80,65.98 L260.77,66.23 L261.74,66.48 L262.71,66.74 L263.67,67.01 L264.63,67.28 L265.59,67.56 L266.55,67.85 L267.50,68.15 L268.45,68.45 L269.40,68.77 L270.34,69.11 L271.28,69.45 L272.20,69.82 L273.13,70.20 L274.04,70.59 L274.95,71.01 L275.85,71.44 L276.74,71.88 L277.63,72.34 L278.51,72.81 L279.39,73.29 L280.26,73.77 L281.13,74.27 L281.99,74.77 L282.85,75.29 L283.70,75.81 L284.55,76.34 L285.38,76.89 L286.21,77.45 L287.03,78.02 L287.84,78.60 L288.64,79.20 L289.43,79.81 L290.21,80.43 L290.98,81.06 L291.75,81.70 L292.51,82.35 L293.26,83.01 L294.00,83.68 L294.73,84.37 L295.45,85.06 L296.16,85.76 L296.86,86.47 L297.55,87.19 L298.23,87.92 L298.90,88.66 L299.55,89.42 L300.19,90.18 L300.82,90.96 L301.43,91.74 L302.03,92.54 L302.61,93.35 L303.18,94.17 L303.75,94.99 L304.30,95.82 L304.85,96.66 L305.39,97.50 L305.92,98.35 L306.44,99.20 L306.96,100.06 L307.46,100.92 L307.97,101.78 L308.46,102.65 L308.94,103.53 L309.42,104.41 L309.88,105.29 L310.34,106.18 L310.79,107.07 L311.23,107.97 L311.66,108.88 L312.08,109.78 L312.49,110.69 L312.89,111.61 L313.28,112.53 L313.67,113.45 L314.05,114.37 L314.43,115.30 L314.80,116.23 L315.17,117.16 L315.52,118.09 L315.88,119.03 L316.22,119.97 L316.56,120.91 L316.89,121.85 L317.21,122.80 L317.53,123.75 L317.84,124.70 L318.15,125.65 L318.46,126.60 L318.77,127.55 L319.07,128.51 L319.37,129.46 L319.67,130.42 L319.97,131.37 L320.26,132.33 L320.56,133.28 L320.86,134.24 L321.15,135.20 L321.44,136.15 L321.72,137.11 L322.01,138.07 L322.28,139.03 L322.56,140.00 L322.82,140.96 L323.08,141.93 L323.33,142.89 L323.58,143.86 L323.82,144.83 L324.05,145.81 L324.29,146.78 L324.52,147.75 L324.74,148.73 L324.97,149.70 L325.20,150.68 L325.42,151.65 L325.65,152.63 L325.87,153.60 L326.09,154.58 L326.32,155.55 L326.54,156.53 L326.76,157.50 L326.99,158.48 L327.21,159.45 L327.43,160.43 L327.66,161.41 L327.88,162.38 L328.10,163.36 L328.33,164.33 L328.55,165.31 L328.77,166.28 L329.00,167.26 L329.22,168.23 L329.45,169.21 L329.68,170.18 L329.90,171.16 L330.13,172.13 L330.36,173.11 L330.59,174.08 L330.82,175.05 L331.05,176.03 L331.28,177.00 L331.51,177.98 L331.74,178.95 L331.97,179.92 L332.20,180.90 L332.43,181.87 L332.66,182.84 L332.89,183.82 L333.12,184.79 L333.35,185.76 L333.59,186.74 L333.82,187.71 L334.06,188.68 L334.29,189.66 L334.53,190.63 L334.77,191.60 L335.02,192.57 L335.26,193.54 L335.51,194.51 L335.75,195.48 L336.00,196.45 L336.25,197.42 L336.49,198.39 L336.74,199.36 L336.99,200.33 L337.23,201.30 L337.48,202.27 L337.73,203.24 L337.98,204.20 L338.23,205.17 L338.48,206.14 L338.74,207.11 L338.99,208.08 L339.25,209.04 L339.51,210.01 L339.78,210.98 L340.04,211.94 L340.31,212.90 L340.58,213.87 L340.85,214.83 L341.12,215.80 L341.39,216.76 L341.66,217.72 L341.93,218.69 L342.20,219.65 L342.47,220.61 L342.75,221.57 L343.02,222.54 L343.30,223.50 L343.58,224.46 L343.86,225.42 L344.15,226.38 L344.44,227.33 L344.73,228.29 L345.03,229.25 L345.33,230.20 L345.63,231.15 L345.93,232.11 L346.24,233.06 L346.54,234.01 L346.85,234.96 L347.17,235.91 L347.48,236.86 L347.81,237.81 L348.15,238.75 L348.49,239.68 L348.85,240.61 L349.23,241.54 L349.62,242.46 L350.02,243.37 L350.43,244.28 L350.86,245.18 L351.29,246.08 L351.73,246.98 L352.18,247.87 L352.64,248.76 L353.10,249.65 L353.57,250.53 L354.04,251.41 L354.53,252.28 L355.03,253.15 L355.54,254.00 L356.07,254.85 L356.61,255.69 L357.16,256.52 L357.73,257.33 L358.32,258.14 L358.92,258.93 L359.54,259.71 L360.18,260.47 L360.84,261.21 L361.52,261.93 L362.22,262.64 L362.94,263.33 L363.67,264.00 L364.42,264.65 L365.19,265.29 L365.96,265.92 L366.75,266.52 L367.56,267.12 L368.37,267.69 L369.19,268.25 L370.03,268.80 L370.87,269.33 L371.73,269.84 L372.59,270.34 L373.47,270.81 L374.35,271.27 L375.25,271.70 L376.15,272.12 L377.07,272.52 L377.99,272.89 L378.92,273.25 L379.85,273.59 L380.80,273.92 L381.75,274.23 L382.70,274.52 L383.66,274.80 L384.62,275.07 L385.59,275.32 L386.56,275.56 L387.53,275.79 L388.50,276.01 L389.48,276.22 L390.46,276.42 L391.44,276.61 L392.43,276.79 L393.41,276.97 L394.40,277.14 L395.38,277.31 L396.37,277.48 L397.36,277.64 L398.34,277.81 L399.33,277.97 L400.32,278.13 L401.30,278.30 L402.29,278.46 L403.28,278.62 L404.27,278.79 L405.25,278.95 L406.24,279.12 L407.23,279.28 L408.21,279.45 L409.20,279.62 L410.19,279.78 L411.17,279.95 L412.16,280.12 L413.15,280.29 L414.13,280.46 L415.12,280.63 L416.10,280.80 L417.09,280.97 L418.07,281.14 L419.06,281.32 L420.04,281.50 L421.03,281.69 L422.01,281.88 L422.99,282.08 L423.96,282.29 L424.94,282.51 L425.91,282.74 L426.88,282.98 L427.85,283.23 L428.82,283.49 L429.78,283.74 L430.75,284.00 L431.71,284.27 L432.68,284.53 L433.64,284.80 L434.61,285.07 L435.57,285.34 L436.53,285.62 L437.48,285.90 L438.44,286.20 L439.39,286.50 L440.33,286.83 L441.27,287.16 L442.20,287.52 L443.12,287.90 L444.04,288.29 L444.95,288.69 L445.85,289.11 L446.75,289.54 L447.65,289.98 L448.55,290.43 L449.43,290.88 L450.32,291.35 L451.20,291.82 L452.07,292.31 L452.93,292.81 L453.79,293.32 L454.64,293.85 L455.48,294.39 L456.31,294.94 L457.14,295.50 L457.96,296.06 L458.78,296.64 L459.59,297.22 L460.40,297.80 L461.21,298.40 L462.01,298.99 L462.81,299.59 L463.60,300.20 L464.39,300.82 L465.18,301.43 L465.96,302.06 L466.74,302.68 L467.52,303.31 L468.30,303.94 L469.07,304.58 L469.85,305.21 L470.62,305.84 L471.40,306.47 L472.18,307.10 L472.95,307.73 L473.73,308.36 L474.52,308.98 L475.30,309.60 L476.09,310.21 L476.89,310.82 L477.69,311.42 L478.49,312.01 L479.30,312.60 L480.11,313.19 L480.92,313.77 L481.74,314.35 L482.56,314.92 L483.38,315.50 L484.20,316.07 L485.03,316.63 L485.86,317.19 L486.69,317.74 L487.53,318.29 L488.37,318.82 L489.22,319.35 L490.07,319.87 L490.93,320.38 L491.80,320.89 L492.66,321.38 L493.53,321.88 L494.40,322.37 L495.28,322.85 L496.15,323.34 L497.03,323.82 L497.91,324.30 L498.79,324.78 L499.67,325.25 L500.55,325.72 L501.44,326.18 L502.33,326.64 L503.22,327.10 L504.11,327.55 L505.01,327.99 L505.91,328.43 L506.81,328.85 L507.72,329.26 L508.63,329.65 L509.55,330.02 L510.48,330.37 L511.42,330.70 L512.36,331.00 L513.32,331.28 L514.28,331.55 L515.24,331.80 L516.21,332.03 L517.19,332.26 L518.16,332.49 L519.14,332.70 L520.11,332.92 L521.09,333.13 L522.07,333.33 L523.05,333.53 L524.03,333.71 L525.01,333.89 L526.00,334.06 L526.99,334.21 L527.97,334.36 L528.97,334.49 L529.96,334.62 L530.95,334.73 L531.94,334.84 L532.94,334.95 L533.93,335.05 L534.93,335.15 L535.92,335.25 L536.92,335.35 L537.92,335.45 L538.91,335.55 L539.91,335.65 L540.90,335.74 L541.90,335.84 L542.90,335.94 L543.89,336.04 L544.89,336.14 L545.88,336.24 L546.88,336.33 L547.87,336.43 L548.87,336.53 L549.87,336.63 L550.86,336.73 L551.86,336.83 L552.85,336.93 L553.85,337.02 L554.84,337.12 L555.84,337.22 L556.84,337.32 L557.83,337.42 L558.83,337.52 L559.82,337.62 L560.82,337.72 L561.82,337.81 L562.81,337.91 L563.81,338.01 L564.80,338.11 L565.80,338.21 L566.79,338.31 L567.79,338.41 L568.79,338.51 L569.78,338.61 L570.78,338.71 L571.77,338.81 L572.77,338.91 L573.76,339.01 L574.76,339.12 L575.75,339.22 L576.75,339.34 L577.74,339.45 L578.73,339.58 L579.72,339.70 L580.72,339.84 L581.71,339.97 L582.70,340.12 L583.69,340.26 L584.68,340.41 L585.67,340.56 L586.66,340.71 L587.65,340.86 L588.63,341.01 L589.62,341.16 L590.61,341.30 L591.60,341.45 L592.59,341.59 L593.58,341.73 L594.58,341.86 L595.57,341.98 L596.56,342.09 L597.56,342.20 L598.55,342.30 L599.55,342.40 L600.54,342.49 L601.54,342.57 L602.54,342.65 L603.53,342.73 L604.53,342.81 L605.53,342.89 L606.53,342.96 L607.52,343.04 L608.52,343.11 L609.52,343.19 L610.52,343.26 L611.52,343.34 L612.51,343.41 L613.51,343.49 L614.51,343.56 L615.51,343.64 L616.51,343.71 L617.50,343.79 L618.50,343.86 L619.00,343.90" fill="none" stroke="#1f7f23" stroke-width="1.80" stroke-linejoin="round"  />
<path d="M72.00,58.80 L73.00,58.81 L74.00,58.83 L75.00,58.84 L76.00,58.85 L77.00,58.87 L78.00,58.88 L79.00,58.89 L80.00,58.91 L81.00,58.92 L82.00,58.93 L83.00,58.94 L84.00,58.96 L85.00,58.97 L86.00,58.98 L87.01,59.00 L88.01,59.01 L89.01,59.02 L90.01,59.04 L91.01,59.05 L92.01,59.06 L93.01,59.08 L94.01,59.09 L95.01,59.10 L96.01,59.12 L97.01,59.13 L98.01,59.14 L99.01,59.16 L100.01,59.17 L101.01,59.18 L102.01,59.20 L103.01,59.21 L104.01,59.22 L105.01,59.24 L106.01,59.25 L107.01,59.27 L108.01,59.28 L109.01,59.30 L110.01,59.31 L111.01,59.33 L112.01,59.35 L113.01,59.37 L114.01,59.39 L115.01,59.41 L116.01,59.43 L117.01,59.45 L118.01,59.48 L119.01,59.50 L120.01,59.52 L121.01,59.54 L122.01,59.56 L123.02,59.59 L124.02,59.61 L125.02,59.63 L126.02,59.65 L127.02,59.67 L128.02,59.70 L129.02,59.72 L130.02,59.74 L131.02,59.76 L132.02,59.78 L133.02,59.81 L134.02,59.83 L135.02,59.85 L136.02,59.87 L137.02,59.89 L138.02,59.92 L139.02,59.94 L140.02,59.96 L141.02,59.98 L142.02,60.00 L143.02,60.03 L144.02,60.05 L145.02,60.07 L146.02,60.09 L147.02,60.11 L148.02,60.14 L149.02,60.16 L150.02,60.18 L151.02,60.20 L152.02,60.22 L153.02,60.25 L154.02,60.27 L155.02,60.29 L156.02,60.32 L157.02,60.34 L158.02,60.37 L159.02,60.39 L160.02,60.42 L161.02,60.45 L162.02,60.48 L163.02,60.51 L164.02,60.54 L165.02,60.58 L166.02,60.61 L167.02,60.65 L168.02,60.68 L169.02,60.72 L170.02,60.75 L171.02,60.79 L172.02,60.82 L173.02,60.86 L174.02,60.89 L175.02,60.93 L176.02,60.96 L177.02,61.00 L178.02,61.03 L179.02,61.07 L180.02,61.10 L181.02,61.14 L182.02,61.17 L183.02,61.21 L184.02,61.24 L185.02,61.28 L186.02,61.31 L187.02,61.35 L188.02,61.38 L189.02,61.42 L190.02,61.45 L191.02,61.49 L192.02,61.52 L193.02,61.56 L194.02,61.59 L195.01,61.63 L196.01,61.67 L197.01,61.71 L198.01,61.75 L199.01,61.79 L200.01,61.84 L201.01,61.88 L202.01,61.93 L203.01,61.98 L204.01,62.04 L205.01,62.09 L206.01,62.15 L207.01,62.20 L208.00,62.26 L209.00,62.32 L210.00,62.38 L211.00,62.43 L212.00,62.49 L213.00,62.55 L214.00,62.60 L215.00,62.66 L215.99,62.72 L216.99,62.78 L217.99,62.83 L218.99,62.89 L219.99,62.95 L220.99,63.01 L221.99,63.06 L222.99,63.12 L223.98,63.18 L224.98,63.24 L225.98,63.29 L226.98,63.35 L227.98,63.41 L228.98,63.47 L229.98,63.52 L230.98,63.58 L231.97,63.64 L232.97,63.70 L233.97,63.76 L234.97,63.82 L235.97,63.89 L236.97,63.96 L237.96,64.03 L238.96,64.11 L239.96,64.19 L240.95,64.29 L241.95,64.38 L242.94,64.49 L243.94,64.59 L244.93,64.70 L245.92,64.82 L246.92,64.94 L247.91,65.06 L248.90,65.18 L249.89,65.31 L250.88,65.45 L251.87,65.59 L252.86,65.74 L253.84,65.91 L254.83,66.08 L255.81,66.27 L256.78,66.48 L257.76,66.70 L258.73,66.93 L259.70,67.17 L260.66,67.43 L261.62,67.70 L262.58,67.98 L263.54,68.27 L264.49,68.57 L265.44,68.88 L266.39,69.20 L267.33,69.53 L268.27,69.87 L269.20,70.23 L270.13,70.59 L271.06,70.97 L271.98,71.36 L272.89,71.77 L273.79,72.18 L274.69,72.62 L275.59,73.06 L276.47,73.52 L277.35,73.99 L278.23,74.48 L279.09,74.98 L279.95,75.49 L280.80,76.01 L281.65,76.54 L282.48,77.08 L283.32,77.64 L284.14,78.20 L284.95,78.78 L285.76,79.37 L286.56,79.96 L287.36,80.57 L288.14,81.18 L288.92,81.81 L289.68,82.45 L290.43,83.11 L291.17,83.78 L291.89,84.46 L292.59,85.17 L293.28,85.89 L293.94,86.62 L294.60,87.38 L295.23,88.14 L295.86,88.92 L296.47,89.71 L297.07,90.51 L297.66,91.31 L298.25,92.12 L298.82,92.94 L299.39,93.76 L299.95,94.59 L300.51,95.42 L301.05,96.26 L301.59,97.10 L302.11,97.95 L302.63,98.80 L303.13,99.67 L303.63,100.53 L304.11,101.41 L304.58,102.29 L305.04,103.18 L305.49,104.07 L305.92,104.97 L306.34,105.87 L306.75,106.78 L307.15,107.70 L307.53,108.62 L307.91,109.55 L308.27,110.48 L308.63,111.41 L308.97,112.35 L309.31,113.29 L309.65,114.23 L309.99,115.18 L310.32,116.12 L310.65,117.06 L310.98,118.01 L311.31,118.95 L311.64,119.90 L311.97,120.84 L312.30,121.78 L312.64,122.73 L312.97,123.67 L313.30,124.62 L313.63,125.56 L313.96,126.50 L314.29,127.45 L314.62,128.39 L314.94,129.34 L315.26,130.29 L315.57,131.24 L315.88,132.19 L316.19,133.14 L316.49,134.09 L316.79,135.05 L317.09,136.00 L317.38,136.96 L317.66,137.92 L317.94,138.88 L318.21,139.84 L318.48,140.81 L318.74,141.77 L318.99,142.74 L319.24,143.71 L319.48,144.68 L319.71,145.65 L319.94,146.62 L320.17,147.60 L320.39,148.57 L320.61,149.55 L320.82,150.53 L321.04,151.50 L321.25,152.48 L321.46,153.46 L321.66,154.44 L321.87,155.42 L322.08,156.40 L322.28,157.38 L322.49,158.35 L322.69,159.33 L322.90,160.31 L323.10,161.29 L323.31,162.27 L323.51,163.25 L323.72,164.23 L323.93,165.21 L324.13,166.19 L324.34,167.16 L324.56,168.14 L324.77,169.12 L324.99,170.10 L325.21,171.07 L325.43,172.05 L325.65,173.02 L325.88,174.00 L326.10,174.97 L326.33,175.95 L326.56,176.92 L326.79,177.89 L327.02,178.87 L327.25,179.84 L327.48,180.81 L327.71,181.79 L327.94,182.76 L328.17,183.74 L328.40,184.71 L328.63,185.68 L328.87,186.65 L329.10,187.63 L329.33,188.60 L329.57,189.57 L329.81,190.54 L330.05,191.51 L330.29,192.49 L330.53,193.46 L330.78,194.43 L331.02,195.40 L331.27,196.37 L331.51,197.34 L331.76,198.31 L332.01,199.27 L332.25,200.24 L332.50,201.21 L332.75,202.18 L332.99,203.15 L333.24,204.12 L333.50,205.09 L333.75,206.06 L334.01,207.02 L334.27,207.99 L334.54,208.95 L334.82,209.91 L335.10,210.87 L335.39,211.83 L335.68,212.79 L335.97,213.74 L336.27,214.70 L336.57,215.65 L336.87,216.60 L337.18,217.56 L337.48,218.51 L337.78,219.46 L338.08,220.42 L338.39,221.37 L338.69,222.33 L338.98,223.28 L339.28,224.24 L339.57,225.19 L339.86,226.15 L340.14,227.11 L340.42,228.07 L340.69,229.03 L340.97,230.00 L341.24,230.96 L341.50,231.92 L341.77,232.89 L342.04,233.85 L342.31,234.81 L342.58,235.78 L342.85,236.74 L343.13,237.70 L343.41,238.66 L343.70,239.61 L344.00,240.57 L344.31,241.52 L344.64,242.46 L344.97,243.40 L345.30,244.34 L345.65,245.28 L346.00,246.22 L346.36,247.15 L346.73,248.08 L347.10,249.01 L347.48,249.93 L347.87,250.85 L348.27,251.77 L348.68,252.67 L349.11,253.58 L349.55,254.47 L350.01,255.36 L350.48,256.24 L350.96,257.11 L351.46,257.97 L351.97,258.82 L352.50,259.67 L353.05,260.50 L353.61,261.31 L354.20,262.12 L354.80,262.90 L355.43,263.67 L356.08,264.43 L356.74,265.17 L357.42,265.90 L358.11,266.61 L358.82,267.31 L359.54,268.00 L360.27,268.68 L361.02,269.34 L361.78,269.99 L362.54,270.62 L363.33,271.24 L364.12,271.85 L364.93,272.43 L365.74,273.00 L366.58,273.55 L367.42,274.07 L368.27,274.58 L369.14,275.07 L370.02,275.53 L370.91,275.98 L371.81,276.40 L372.72,276.80 L373.64,277.19 L374.56,277.55 L375.50,277.89 L376.44,278.21 L377.39,278.50 L378.34,278.78 L379.31,279.03 L380.28,279.26 L381.25,279.47 L382.23,279.67 L383.21,279.85 L384.19,280.02 L385.18,280.18 L386.17,280.33 L387.15,280.48 L388.14,280.62 L389.14,280.75 L390.13,280.88 L391.12,281.00 L392.11,281.12 L393.11,281.24 L394.10,281.36 L395.09,281.47 L396.09,281.58 L397.08,281.69 L398.08,281.80 L399.07,281.90 L400.07,282.01 L401.06,282.12 L402.05,282.23 L403.05,282.35 L404.04,282.47 L405.03,282.59 L406.03,282.72 L407.02,282.85 L408.01,282.98 L409.00,283.12 L409.99,283.26 L410.98,283.41 L411.97,283.56 L412.96,283.72 L413.94,283.88 L414.93,284.05 L415.91,284.21 L416.90,284.39 L417.88,284.57 L418.87,284.75 L419.85,284.93 L420.83,285.12 L421.82,285.31 L422.80,285.51 L423.78,285.70 L424.76,285.90 L425.74,286.10 L426.72,286.30 L427.70,286.51 L428.68,286.71 L429.66,286.91 L430.64,287.11 L431.62,287.31 L432.60,287.50 L433.58,287.70 L434.56,287.90 L435.54,288.11 L436.51,288.32 L437.49,288.54 L438.45,288.77 L439.42,289.02 L440.38,289.28 L441.33,289.57 L442.27,289.88 L443.21,290.20 L444.14,290.55 L445.07,290.92 L445.99,291.30 L446.91,291.70 L447.82,292.10 L448.73,292.52 L449.64,292.94 L450.54,293.37 L451.44,293.80 L452.33,294.25 L453.22,294.71 L454.10,295.18 L454.98,295.65 L455.85,296.14 L456.72,296.63 L457.58,297.13 L458.45,297.64 L459.30,298.15 L460.16,298.67 L461.01,299.19 L461.86,299.72 L462.70,300.26 L463.54,300.80 L464.37,301.36 L465.19,301.92 L466.01,302.50 L466.82,303.08 L467.62,303.68 L468.41,304.28 L469.21,304.89 L470.00,305.51 L470.78,306.12 L471.57,306.74 L472.36,307.36 L473.14,307.98 L473.93,308.59 L474.72,309.20 L475.52,309.81 L476.31,310.42 L477.11,311.01 L477.92,311.61 L478.73,312.20 L479.54,312.78 L480.35,313.37 L481.17,313.95 L481.98,314.52 L482.80,315.10 L483.62,315.67 L484.45,316.23 L485.27,316.80 L486.10,317.35 L486.94,317.90 L487.78,318.45 L488.62,318.98 L489.47,319.51 L490.33,320.02 L491.19,320.53 L492.05,321.03 L492.92,321.53 L493.79,322.02 L494.66,322.51 L495.53,323.00 L496.41,323.48 L497.29,323.96 L498.17,324.44 L499.05,324.91 L499.93,325.38 L500.81,325.85 L501.70,326.32 L502.59,326.77 L503.48,327.23 L504.37,327.68 L505.27,328.12 L506.17,328.55 L507.07,328.97 L507.98,329.38 L508.90,329.76 L509.82,330.13 L510.75,330.47 L511.69,330.79 L512.64,331.09 L513.59,331.36 L514.56,331.62 L515.52,331.87 L516.49,332.10 L517.47,332.33 L518.44,332.55 L519.42,332.77 L520.39,332.98 L521.37,333.18 L522.35,333.39 L523.33,333.58 L524.31,333.77 L525.30,333.94 L526.28,334.10 L527.27,334.26 L528.26,334.40 L529.25,334.53 L530.24,334.65 L531.23,334.76 L532.23,334.87 L533.22,334.98 L534.22,335.08 L535.21,335.18 L536.21,335.28 L537.20,335.38 L538.20,335.48 L539.19,335.57 L540.19,335.67 L541.18,335.77 L542.18,335.87 L543.18,335.97 L544.17,336.07 L545.17,336.16 L546.16,336.26 L547.16,336.36 L548.15,336.46 L549.15,336.55 L550.14,336.65 L551.14,336.75 L552.14,336.84 L553.13,336.93 L554.13,337.02 L555.13,337.11 L556.12,337.20 L557.12,337.29 L558.11,337.38 L559.11,337.47 L560.11,337.56 L561.10,337.65 L562.10,337.73 L563.10,337.82 L564.09,337.91 L565.09,338.00 L566.09,338.08 L567.08,338.17 L568.08,338.26 L569.08,338.35 L570.07,338.43 L571.07,338.52 L572.07,338.61 L573.06,338.69 L574.06,338.78 L575.06,338.86 L576.05,338.95 L577.05,339.03 L578.05,339.11 L579.05,339.18 L580.04,339.26 L581.04,339.33 L582.04,339.40 L583.04,339.47 L584.04,339.53 L585.03,339.60 L586.03,339.67 L587.03,339.73 L588.03,339.80 L589.03,339.86 L590.02,339.93 L591.02,339.99 L592.02,340.05 L593.02,340.12 L594.02,340.18 L595.02,340.25 L596.02,340.31 L597.01,340.38 L598.01,340.44 L599.01,340.50 L600.01,340.56 L601.01,340.62 L602.01,340.68 L603.00,340.74 L604.00,340.79 L605.00,340.84 L606.00,340.88 L607.00,340.93 L608.00,340.96 L609.00,341.00 L610.00,341.03 L611.00,341.07 L612.00,341.10 L613.00,341.13 L614.00,341.16 L615.00,341.18 L616.00,341.21 L617.00,341.24 L618.00,341.27 L619.00,341.30" fill="none" stroke="#4a1a5a" stroke-width="1.80" stroke-linejoin="round"  />
<line x1="63.0" y1="9.0" x2="63.0" y2="452.7" stroke="#c06262" stroke-width="2"/>
<line x1="55.5" y1="451.40" x2="63.0" y2="451.40" stroke="#cc2a2a" stroke-width="1.8"/>
<text x="50" y="455.30" font-size="12.3" fill="#c0282d" text-anchor="end">20</text>
<line x1="59.0" y1="426.85" x2="63.0" y2="426.85" stroke="#cc2a2a" stroke-width="1.8"/>
<line x1="55.5" y1="402.30" x2="63.0" y2="402.30" stroke="#cc2a2a" stroke-width="1.8"/>
<text x="50" y="406.20" font-size="12.3" fill="#c0282d" text-anchor="end">30</text>
<line x1="59.0" y1="377.75" x2="63.0" y2="377.75" stroke="#cc2a2a" stroke-width="1.8"/>
<line x1="55.5" y1="353.20" x2="63.0" y2="353.20" stroke="#cc2a2a" stroke-width="1.8"/>
<text x="50" y="357.10" font-size="12.3" fill="#c0282d" text-anchor="end">40</text>
<line x1="59.0" y1="328.65" x2="63.0" y2="328.65" stroke="#cc2a2a" stroke-width="1.8"/>
<line x1="55.5" y1="304.10" x2="63.0" y2="304.10" stroke="#cc2a2a" stroke-width="1.8"/>
<text x="50" y="308.00" font-size="12.3" fill="#c0282d" text-anchor="end">50</text>
<line x1="59.0" y1="279.55" x2="63.0" y2="279.55" stroke="#cc2a2a" stroke-width="1.8"/>
<line x1="55.5" y1="255.00" x2="63.0" y2="255.00" stroke="#cc2a2a" stroke-width="1.8"/>
<text x="50" y="258.90" font-size="12.3" fill="#c0282d" text-anchor="end">60</text>
<line x1="59.0" y1="230.45" x2="63.0" y2="230.45" stroke="#cc2a2a" stroke-width="1.8"/>
<line x1="55.5" y1="205.90" x2="63.0" y2="205.90" stroke="#cc2a2a" stroke-width="1.8"/>
<text x="50" y="209.80" font-size="12.3" fill="#c0282d" text-anchor="end">70</text>
<line x1="59.0" y1="181.35" x2="63.0" y2="181.35" stroke="#cc2a2a" stroke-width="1.8"/>
<line x1="55.5" y1="156.80" x2="63.0" y2="156.80" stroke="#cc2a2a" stroke-width="1.8"/>
<text x="50" y="160.70" font-size="12.3" fill="#c0282d" text-anchor="end">80</text>
<line x1="59.0" y1="132.25" x2="63.0" y2="132.25" stroke="#cc2a2a" stroke-width="1.8"/>
<line x1="55.5" y1="107.70" x2="63.0" y2="107.70" stroke="#cc2a2a" stroke-width="1.8"/>
<text x="50" y="111.60" font-size="12.3" fill="#c0282d" text-anchor="end">90</text>
<line x1="59.0" y1="83.15" x2="63.0" y2="83.15" stroke="#cc2a2a" stroke-width="1.8"/>
<line x1="55.5" y1="58.60" x2="63.0" y2="58.60" stroke="#cc2a2a" stroke-width="1.8"/>
<text x="50" y="62.50" font-size="12.3" fill="#c0282d" text-anchor="end">100</text>
<line x1="59.0" y1="34.05" x2="63.0" y2="34.05" stroke="#cc2a2a" stroke-width="1.8"/>
<line x1="55.5" y1="9.50" x2="63.0" y2="9.50" stroke="#cc2a2a" stroke-width="1.8"/>
<text x="50" y="13.40" font-size="12.3" fill="#c0282d" text-anchor="end">110</text>
<line x1="619.55" y1="9.0" x2="619.55" y2="452.7" stroke="#2020b8" stroke-width="1.55"/>
<line x1="619.55" y1="9.88" x2="623.05" y2="9.88" stroke="#2020b8" stroke-width="1.6"/>
<line x1="619.55" y1="73.00" x2="626.55" y2="73.00" stroke="#2020b8" stroke-width="1.6"/>
<text x="632.5" y="76.40" font-size="12.3" fill="#2a2ab4">0.0</text>
<line x1="619.55" y1="136.12" x2="623.05" y2="136.12" stroke="#2020b8" stroke-width="1.6"/>
<line x1="619.55" y1="199.25" x2="626.55" y2="199.25" stroke="#2020b8" stroke-width="1.6"/>
<text x="632.5" y="202.65" font-size="12.3" fill="#2a2ab4">-0.5</text>
<line x1="619.55" y1="262.38" x2="623.05" y2="262.38" stroke="#2020b8" stroke-width="1.6"/>
<line x1="619.55" y1="325.50" x2="626.55" y2="325.50" stroke="#2020b8" stroke-width="1.6"/>
<text x="632.5" y="328.90" font-size="12.3" fill="#2a2ab4">-1.0</text>
<line x1="619.55" y1="388.62" x2="623.05" y2="388.62" stroke="#2020b8" stroke-width="1.6"/>
<line x1="619.55" y1="451.75" x2="626.55" y2="451.75" stroke="#2020b8" stroke-width="1.6"/>
<text x="632.5" y="455.15" font-size="12.3" fill="#2a2ab4">-1.5</text>
<text x="341.2" y="501.1" font-size="16.3" fill="#1a1a1a" text-anchor="middle">Temperature (°C)</text>
<text transform="translate(15.6,230.5) rotate(-90)" font-size="16.3" fill="#c0282d" text-anchor="middle">Weight (%)</text>
<text transform="translate(674.5,227.2) rotate(-90)" font-size="16.3" fill="#2020b8" text-anchor="middle">DTG (%/min)</text>
<rect x="493.5" y="16.5" width="103" height="56.8" fill="#fff" stroke="#383838" stroke-width="1"/>
<line x1="495" y1="26.40" x2="528" y2="26.40" stroke="#d7aa3c" stroke-width="1.8"/>
<text x="532.4" y="31.40" font-size="14" font-weight="bold" fill="#111">PVC</text>
<line x1="495" y1="44.55" x2="528" y2="44.55" stroke="#1f7f23" stroke-width="1.8"/>
<text x="532.4" y="49.55" font-size="14" font-weight="bold" fill="#111">PVC-UTF</text>
<line x1="495" y1="62.70" x2="528" y2="62.70" stroke="#4a1a5a" stroke-width="1.8"/>
<text x="532.4" y="67.70" font-size="14" font-weight="bold" fill="#111">PVC-BTF</text>
<line x1="90" y1="48.9" x2="104" y2="48.9" stroke="#d23c3c" stroke-width="1.7"/>
<polygon points="81.3,48.9 92,45.9 92,51.9" fill="#ee1111"/>
<line x1="572.2" y1="107.3" x2="591" y2="107.3" stroke="#2424a8" stroke-width="1.6"/>
<polygon points="600.3,107.3 590,104.3 590,110.3" fill="#1111dd"/>
<rect x="296.25" y="318.45" width="1.7" height="1.7" fill="#c43030"/>
<rect x="301.81" y="318.45" width="1.7" height="1.7" fill="#c43030"/>
<rect x="307.37" y="318.45" width="1.7" height="1.7" fill="#c43030"/>
<rect x="312.93" y="318.45" width="1.7" height="1.7" fill="#c43030"/>
<rect x="318.49" y="318.45" width="1.7" height="1.7" fill="#c43030"/>
<rect x="324.05" y="318.45" width="1.7" height="1.7" fill="#c43030"/>
<rect x="329.61" y="318.45" width="1.7" height="1.7" fill="#c43030"/>
<rect x="335.17" y="318.45" width="1.7" height="1.7" fill="#c43030"/>
<rect x="340.73" y="318.45" width="1.7" height="1.7" fill="#c43030"/>
<rect x="346.29" y="318.45" width="1.7" height="1.7" fill="#c43030"/>
<rect x="351.85" y="318.45" width="1.7" height="1.7" fill="#c43030"/>
<rect x="357.41" y="318.45" width="1.7" height="1.7" fill="#c43030"/>
<rect x="362.97" y="318.45" width="1.7" height="1.7" fill="#c43030"/>
<rect x="368.53" y="318.45" width="1.7" height="1.7" fill="#c43030"/>
<rect x="374.09" y="318.45" width="1.7" height="1.7" fill="#c43030"/>
<rect x="379.65" y="318.45" width="1.7" height="1.7" fill="#c43030"/>
<polygon points="284.9,319.3 295.2,316.5 295.2,322.1" fill="#ee1111"/>
<polygon points="392.7,319.3 382.2,316.5 382.2,322.1" fill="#ee1111"/>
<rect x="478.45" y="379.55" width="1.7" height="1.7" fill="#c43030"/>
<rect x="484.00" y="379.55" width="1.7" height="1.7" fill="#c43030"/>
<rect x="489.54" y="379.55" width="1.7" height="1.7" fill="#c43030"/>
<rect x="495.08" y="379.55" width="1.7" height="1.7" fill="#c43030"/>
<rect x="500.63" y="379.55" width="1.7" height="1.7" fill="#c43030"/>
<rect x="506.18" y="379.55" width="1.7" height="1.7" fill="#c43030"/>
<rect x="511.72" y="379.55" width="1.7" height="1.7" fill="#c43030"/>
<rect x="517.26" y="379.55" width="1.7" height="1.7" fill="#c43030"/>
<rect x="522.81" y="379.55" width="1.7" height="1.7" fill="#c43030"/>
<rect x="528.36" y="379.55" width="1.7" height="1.7" fill="#c43030"/>
<rect x="533.90" y="379.55" width="1.7" height="1.7" fill="#c43030"/>
<rect x="539.45" y="379.55" width="1.7" height="1.7" fill="#c43030"/>
<rect x="544.99" y="379.55" width="1.7" height="1.7" fill="#c43030"/>
<rect x="550.53" y="379.55" width="1.7" height="1.7" fill="#c43030"/>
<rect x="556.08" y="379.55" width="1.7" height="1.7" fill="#c43030"/>
<rect x="561.62" y="379.55" width="1.7" height="1.7" fill="#c43030"/>
<rect x="567.17" y="379.55" width="1.7" height="1.7" fill="#c43030"/>
<rect x="572.72" y="379.55" width="1.7" height="1.7" fill="#c43030"/>
<rect x="578.26" y="379.55" width="1.7" height="1.7" fill="#c43030"/>
<rect x="583.81" y="379.55" width="1.7" height="1.7" fill="#c43030"/>
<rect x="589.35" y="379.55" width="1.7" height="1.7" fill="#c43030"/>
<polygon points="467.0,380.4 477.3,377.6 477.3,383.2" fill="#ee1111"/>
<polygon points="607.2,380.4 596.7,377.6 596.7,383.2" fill="#ee1111"/>
<line x1="269.8" y1="341.6" x2="299.9" y2="327.6" stroke="#111" stroke-width="1.05"/>
<polygon points="307.2,324.2 300.4,331.0 297.6,325.0" fill="#111"/>
<line x1="465.0" y1="405.0" x2="499.5" y2="387.3" stroke="#111" stroke-width="1.05"/>
<polygon points="506.6,383.6 500.1,390.7 497.1,384.8" fill="#111"/>
<text x="228.8" y="353.5" font-size="10.6" font-weight="bold" fill="#15151f">HCl Removal</text>
<text x="439.3" y="418.4" font-size="10.7" font-weight="bold" fill="#15151f">Polyene Degradation</text>
</svg>
</body></html>
